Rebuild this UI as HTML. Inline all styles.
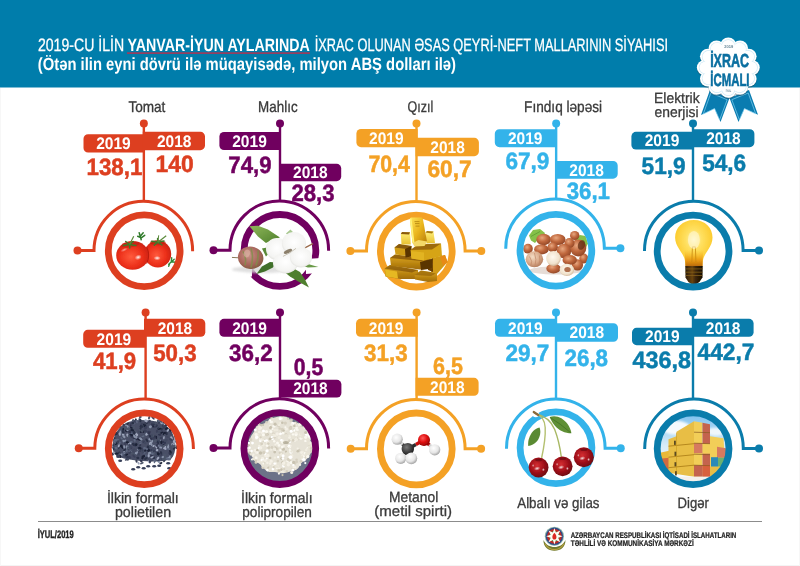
<!DOCTYPE html>
<html lang="az"><head><meta charset="utf-8"><title>İxrac icmalı</title>
<style>html,body{margin:0;padding:0;background:#fff}svg{display:block}text{font-family:"Liberation Sans",sans-serif;text-rendering:geometricPrecision}</style></head><body>
<svg width="800" height="566" viewBox="0 0 800 566">
<defs><radialGradient id="gTom" cx="0.45" cy="0.55" r="0.65"><stop offset="0" stop-color="#ff5a3c"/><stop offset="0.55" stop-color="#ec2f1a"/><stop offset="1" stop-color="#c01f10"/></radialGradient>
<radialGradient id="gHi" cx="0.5" cy="0.5" r="0.5"><stop offset="0" stop-color="#fff" stop-opacity="0.95"/><stop offset="1" stop-color="#fff" stop-opacity="0"/></radialGradient>
<radialGradient id="gCot" cx="0.5" cy="0.45" r="0.6"><stop offset="0" stop-color="#ffffff"/><stop offset="0.75" stop-color="#f4f4f2"/><stop offset="1" stop-color="#dcdcd8"/></radialGradient>
<radialGradient id="gBud" cx="0.4" cy="0.4" r="0.7"><stop offset="0" stop-color="#c9948a"/><stop offset="0.6" stop-color="#a8665c"/><stop offset="1" stop-color="#7a5a3a"/></radialGradient>
<linearGradient id="gLeaf" x1="0" y1="0" x2="1" y2="1"><stop offset="0" stop-color="#8fb85a"/><stop offset="1" stop-color="#4f7f2c"/></linearGradient>
<linearGradient id="gGoldV" x1="0" y1="0" x2="1" y2="1"><stop offset="0" stop-color="#ffe45a"/><stop offset="0.5" stop-color="#e9b41c"/><stop offset="1" stop-color="#b47a08"/></linearGradient>
<linearGradient id="gGoldH" x1="0" y1="0" x2="0" y2="1"><stop offset="0" stop-color="#e0aa1e"/><stop offset="1" stop-color="#a06c08"/></linearGradient>
<linearGradient id="gGoldL" x1="0" y1="0" x2="0" y2="1"><stop offset="0" stop-color="#fff07a"/><stop offset="1" stop-color="#e8c030"/></linearGradient>
<radialGradient id="gNut" cx="0.4" cy="0.35" r="0.7"><stop offset="0" stop-color="#e8a880"/><stop offset="0.5" stop-color="#c0683e"/><stop offset="1" stop-color="#8e4424"/></radialGradient>
<radialGradient id="gNutL" cx="0.4" cy="0.35" r="0.7"><stop offset="0" stop-color="#f4dcc4"/><stop offset="0.6" stop-color="#d8a888"/><stop offset="1" stop-color="#b07858"/></radialGradient>
<radialGradient id="gNutC" cx="0.45" cy="0.4" r="0.65"><stop offset="0" stop-color="#fffaf0"/><stop offset="0.7" stop-color="#f0e2cc"/><stop offset="1" stop-color="#c8a888"/></radialGradient>
<radialGradient id="gBulb" cx="0.5" cy="0.42" r="0.62"><stop offset="0" stop-color="#fff6c0"/><stop offset="0.35" stop-color="#ffe060"/><stop offset="0.8" stop-color="#fccc30"/><stop offset="1" stop-color="#f0b020"/></radialGradient>
<linearGradient id="gNeck" x1="0" y1="0" x2="0" y2="1"><stop offset="0" stop-color="#f6b820" stop-opacity="0"/><stop offset="0.6" stop-color="#e89410" stop-opacity="0.85"/><stop offset="1" stop-color="#b86808"/></linearGradient>
<linearGradient id="gBase" x1="0" y1="0" x2="1" y2="0"><stop offset="0" stop-color="#2a1a06"/><stop offset="0.4" stop-color="#6a4410"/><stop offset="0.6" stop-color="#3a2408"/><stop offset="1" stop-color="#140c02"/></linearGradient>
<radialGradient id="gH" cx="0.4" cy="0.35" r="0.7"><stop offset="0" stop-color="#ffffff"/><stop offset="0.6" stop-color="#e6e6e6"/><stop offset="1" stop-color="#9a9a9a"/></radialGradient>
<radialGradient id="gC" cx="0.4" cy="0.35" r="0.7"><stop offset="0" stop-color="#7a7a7a"/><stop offset="0.6" stop-color="#3c3c3c"/><stop offset="1" stop-color="#141414"/></radialGradient>
<radialGradient id="gO" cx="0.4" cy="0.35" r="0.7"><stop offset="0" stop-color="#ff5a5a"/><stop offset="0.5" stop-color="#e01010"/><stop offset="1" stop-color="#8a0000"/></radialGradient>
<radialGradient id="gCh" cx="0.42" cy="0.4" r="0.7"><stop offset="0" stop-color="#d42e32"/><stop offset="0.5" stop-color="#a2101a"/><stop offset="1" stop-color="#5c060c"/></radialGradient>
<linearGradient id="gSky" x1="0" y1="0" x2="0" y2="1"><stop offset="0" stop-color="#7cc0ee"/><stop offset="0.45" stop-color="#d8ecf8"/><stop offset="1" stop-color="#ffffff"/></linearGradient>
<linearGradient id="gRib" x1="0" y1="0" x2="0" y2="1"><stop offset="0" stop-color="#0a6e9c"/><stop offset="1" stop-color="#1288bc"/></linearGradient>
<filter id="bl1" x="-20%" y="-20%" width="140%" height="140%"><feGaussianBlur stdDeviation="0.6"/></filter>
<filter id="bl2" x="-20%" y="-20%" width="140%" height="140%"><feGaussianBlur stdDeviation="1.2"/></filter>
<filter id="bl05" x="-20%" y="-20%" width="140%" height="140%"><feGaussianBlur stdDeviation="0.35"/></filter></defs>
<rect width="800" height="566" fill="#fff"/>
<rect width="800" height="87.5" fill="#007dab"/>
<text transform="translate(37.92,50.50) scale(0.3522,0.4493)" font-size="40" font-weight="normal" fill="#fff" stroke="#fff" stroke-width="0.62">2019-CU İLİN</text>
<text transform="translate(127.62,50.50) scale(0.3553,0.4493)" font-size="40" font-weight="bold" fill="#fff">YANVAR-İYUN AYLARINDA</text>
<rect x="127" y="52.3" width="183" height="1.6" fill="#a43a58"/>
<text transform="translate(314.67,50.50) scale(0.3206,0.4493)" font-size="40" font-weight="normal" fill="#fff" stroke="#fff" stroke-width="0.65">İXRAC OLUNAN ƏSAS QEYRİ-NEFT MALLARININ SİYAHISI</text>
<text transform="translate(37.76,70.30) scale(0.3702,0.4420)" font-size="40" font-weight="bold" fill="#fff">(Ötən ilin eyni dövrü ilə müqayisədə, milyon ABŞ dolları ilə)</text>
<text transform="translate(128.38,111.85) scale(0.3395,0.3877)" font-size="40" font-weight="normal" fill="#3a3a3a" stroke="#3a3a3a" stroke-width="0.83">Tomat</text>
<text transform="translate(258.08,111.85) scale(0.3354,0.3877)" font-size="40" font-weight="normal" fill="#3a3a3a" stroke="#3a3a3a" stroke-width="0.83">Mahlıc</text>
<text transform="translate(407.59,111.85) scale(0.3111,0.3877)" font-size="40" font-weight="normal" fill="#3a3a3a" stroke="#3a3a3a" stroke-width="0.86">Qızıl</text>
<text transform="translate(524.06,111.85) scale(0.3409,0.3877)" font-size="40" font-weight="normal" fill="#3a3a3a" stroke="#3a3a3a" stroke-width="0.82">Fındıq ləpəsi</text>
<text transform="translate(654.04,103.45) scale(0.3477,0.3696)" font-size="40" font-weight="normal" fill="#3a3a3a" stroke="#3a3a3a" stroke-width="0.84">Elektrik</text>
<text transform="translate(654.60,116.85) scale(0.3464,0.3696)" font-size="40" font-weight="normal" fill="#3a3a3a" stroke="#3a3a3a" stroke-width="0.84">enerjisi</text>
<text transform="translate(106.88,503.25) scale(0.3514,0.3732)" font-size="40" font-weight="normal" fill="#3a3a3a" stroke="#3a3a3a" stroke-width="0.83">İlkin formalı</text>
<text transform="translate(114.92,516.65) scale(0.3558,0.3732)" font-size="40" font-weight="normal" fill="#3a3a3a" stroke="#3a3a3a" stroke-width="0.82">polietilen</text>
<text transform="translate(241.09,503.25) scale(0.3494,0.3732)" font-size="40" font-weight="normal" fill="#3a3a3a" stroke="#3a3a3a" stroke-width="0.83">İlkin formalı</text>
<text transform="translate(242.26,516.65) scale(0.3405,0.3732)" font-size="40" font-weight="normal" fill="#3a3a3a" stroke="#3a3a3a" stroke-width="0.84">polipropilen</text>
<text transform="translate(389.04,502.05) scale(0.3460,0.3696)" font-size="40" font-weight="normal" fill="#3a3a3a" stroke="#3a3a3a" stroke-width="0.84">Metanol</text>
<text transform="translate(374.35,516.05) scale(0.3756,0.3696)" font-size="40" font-weight="normal" fill="#3a3a3a" stroke="#3a3a3a" stroke-width="0.81">(metil spirti)</text>
<text transform="translate(517.25,507.55) scale(0.3333,0.3768)" font-size="40" font-weight="normal" fill="#3a3a3a" stroke="#3a3a3a" stroke-width="0.84">Albalı və gilas</text>
<text transform="translate(677.50,507.95) scale(0.3286,0.3768)" font-size="40" font-weight="normal" fill="#3a3a3a" stroke="#3a3a3a" stroke-width="0.85">Digər</text>
<path d="M77.50,250.60 L94.00,250.60 A49.3,49.3 0 0 1 192.60,250.60 L192.60,251.20" fill="none" stroke="#dd3f20" stroke-width="3" stroke-linejoin="miter"/>
<circle cx="77.50" cy="250.60" r="4" fill="#dd3f20"/>
<rect x="142.65" y="123.60" width="2.4" height="78.20" fill="#dd3f20"/>
<circle cx="143.85" cy="123.60" r="4" fill="#dd3f20"/>
<g transform="translate(0.20,-0.20)" filter="url(#bl05)"><ellipse cx="157.6" cy="254.2" rx="13.4" ry="13.6" fill="url(#gTom)"/><ellipse cx="157.6" cy="242.8" rx="8.0" ry="2.6" fill="#b8200f" opacity="0.55"/><ellipse cx="132.4" cy="255.6" rx="16.4" ry="14.4" fill="url(#gTom)"/><path d="M146.5,247 Q150.5,255 146.5,264" fill="none" stroke="#a81808" stroke-width="1" opacity="0.6"/><ellipse cx="130.0" cy="245.0" rx="9.0" ry="2.6" fill="#b8200f" transform="rotate(-6 130.0 245.0)" opacity="0.5"/><ellipse cx="138.0" cy="257.5" rx="3.6" ry="2.6" fill="url(#gHi)" transform="rotate(-20 138.0 257.5)"/><ellipse cx="157.0" cy="258.3" rx="3.6" ry="2.2" fill="url(#gHi)"/><ellipse cx="124.0" cy="250.0" rx="4.0" ry="1.6" fill="url(#gHi)" transform="rotate(-25 124.0 250.0)" opacity="0.6"/><path d="M129.4,244.6 L135.6,245.7" stroke="#3f7a2a" stroke-width="1.5" stroke-linecap="round"/><path d="M129.4,244.6 L129.5,248.2" stroke="#3f7a2a" stroke-width="1.5" stroke-linecap="round"/><path d="M129.4,244.6 L123.2,245.8" stroke="#3f7a2a" stroke-width="1.5" stroke-linecap="round"/><path d="M129.4,244.6 L125.5,241.7" stroke="#3f7a2a" stroke-width="1.5" stroke-linecap="round"/><path d="M129.4,244.6 L133.1,241.7" stroke="#3f7a2a" stroke-width="1.5" stroke-linecap="round"/><path d="M129.4,244.6 L133.5,236.5" stroke="#5a8a3a" stroke-width="1.2"/><path d="M157.7,242.4 L161.7,245.2" stroke="#3f7a2a" stroke-width="1.5" stroke-linecap="round"/><path d="M157.7,242.4 L154.1,245.4" stroke="#3f7a2a" stroke-width="1.5" stroke-linecap="round"/><path d="M157.7,242.4 L151.4,241.4" stroke="#3f7a2a" stroke-width="1.5" stroke-linecap="round"/><path d="M157.7,242.4 L157.4,238.8" stroke="#3f7a2a" stroke-width="1.5" stroke-linecap="round"/><path d="M157.7,242.4 L163.8,241.2" stroke="#3f7a2a" stroke-width="1.5" stroke-linecap="round"/><path d="M157.7,242.4 L166,236" stroke="#5a8a3a" stroke-width="1.2"/><path d="M157.7,242.4 L158.5,235.5" stroke="#5a8a3a" stroke-width="1"/><path d="M141,240 L139,233 M141,238 L137.5,236.5 M141,238 L144.5,235.5 M140.5,236 L143,233" stroke="#2f7a2a" stroke-width="1.5" stroke-linecap="round" fill="none"/><path d="M168.5,264.5 L174,259.5 M171,262 L171.5,258 M171,262 L175,262.5 M169.5,263.5 L168.5,266.5" stroke="#2f8a3a" stroke-width="1.4" stroke-linecap="round" fill="none"/></g>
<circle cx="144.20" cy="250.80" r="35.9" fill="none" stroke="#dd3f20" stroke-width="6.8"/>

<path d="M88.10,134.20 L144.80,134.20 L144.80,152.50 L88.10,152.50 A4.6,4.6 0 0 1 83.50,147.90 L83.50,138.80 A4.6,4.6 0 0 1 88.10,134.20 Z" fill="#dd3f20"/>
<text transform="translate(96.16,149.05) scale(0.3886,0.4179)" font-size="40" font-weight="bold" fill="#fff">2019</text>
<path d="M142.80,131.80 L200.40,131.80 A4.6,4.6 0 0 1 205.00,136.40 L205.00,145.60 A4.6,4.6 0 0 1 200.40,150.20 L142.80,150.20 L142.80,131.80 Z" fill="#dd3f20"/>
<text transform="translate(156.91,146.70) scale(0.3877,0.4179)" font-size="40" font-weight="bold" fill="#fff">2018</text>
<text transform="translate(86.51,175.00) scale(0.5580,0.5929)" font-size="40" font-weight="bold" fill="#dd3f20" stroke="#dd3f20" stroke-width="0.87">138,1</text>
<text transform="translate(155.47,172.40) scale(0.5735,0.5929)" font-size="40" font-weight="bold" fill="#dd3f20" stroke="#dd3f20" stroke-width="0.86">140</text>
<path d="M213.50,250.20 L230.00,250.20 A49.3,49.3 0 0 1 328.60,250.20 L328.60,250.80" fill="none" stroke="#70005f" stroke-width="3" stroke-linejoin="miter"/>
<circle cx="213.50" cy="250.20" r="4" fill="#70005f"/>
<rect x="278.80" y="123.60" width="2.4" height="77.80" fill="#70005f"/>
<circle cx="280.00" cy="123.60" r="4" fill="#70005f"/>

<circle cx="279.95" cy="250.40" r="35.9" fill="none" stroke="#70005f" stroke-width="6.8"/>
<g transform="translate(-0.05,-0.60)"><path d="M236,252.5 L252,251 L252,277 L247,277.5 L240,271 L236,262 Z M306,259.5 L321,258.5 L321,266 L318,273.5 L306,274.5 Z" fill="#fff" filter="url(#bl05)"/><ellipse cx="262.0" cy="270.0" rx="30.0" ry="3.5" fill="#d8d8d8" filter="url(#bl2)" opacity="0.8"/><g filter="url(#bl05)"><polygon points="249.5,226.8 258.0,226.4 268.0,230.0 280.0,238.0 272.0,240.5 266.0,243.5 258.0,237.0" fill="url(#gLeaf)"/><polygon points="286.0,234.0 290.5,230.0 293.0,232.5 289.0,236.5" fill="#a8c890"/><polygon points="256.5,274.5 262.0,267.0 270.0,262.5 276.0,263.0 273.0,268.0 265.0,272.0" fill="#3f6f2a"/><polygon points="284.0,272.0 292.0,268.0 300.0,272.5 305.0,280.0 309.0,288.0 300.0,283.0 290.0,277.0" fill="#4f7f2e"/><polygon points="298.0,265.0 308.0,264.5 318.5,267.5 308.0,268.0" fill="#6a9a48"/><polygon points="262.0,249.0 267.0,248.0 270.0,253.0 266.0,257.0" fill="#5a8a38"/><path d="M303,249.5 L313,244.2" stroke="#9a6a4a" stroke-width="1.2"/><path d="M232,258 L240,258.5" stroke="#8a7a5a" stroke-width="1"/><ellipse cx="250.7" cy="258.3" rx="12.8" ry="11.2" fill="url(#gBud)" transform="rotate(10 250.7 258.3)"/><path d="M243,252 Q247,258 245,266 M251,248.5 Q254,258 251,268 M258,251 Q259,259 256,266" stroke="#7f8f4a" stroke-width="1.6" fill="none" opacity="0.8"/><ellipse cx="247.0" cy="254.0" rx="3.0" ry="4.0" fill="#e0b8a8" transform="rotate(20 247.0 254.0)" opacity="0.6"/><ellipse cx="277.0" cy="249.5" rx="11.0" ry="11.0" fill="url(#gCot)"/><ellipse cx="294.0" cy="244.0" rx="12.0" ry="11.5" fill="url(#gCot)"/><ellipse cx="285.5" cy="263.5" rx="12.5" ry="10.5" fill="url(#gCot)"/><ellipse cx="301.0" cy="258.0" rx="11.0" ry="10.0" fill="url(#gCot)"/><ellipse cx="288.0" cy="252.0" rx="4.5" ry="1.8" fill="#6a5a40" transform="rotate(-25 288.0 252.0)" opacity="0.75"/><path d="M283,257 Q290,254 296,249" stroke="#c8c4b8" stroke-width="1" fill="none"/></g></g>
<path d="M224.00,132.00 L281.00,132.00 L281.00,150.00 L224.00,150.00 A4.6,4.6 0 0 1 219.40,145.40 L219.40,136.60 A4.6,4.6 0 0 1 224.00,132.00 Z" fill="#70005f"/>
<text transform="translate(232.21,146.70) scale(0.3886,0.4179)" font-size="40" font-weight="bold" fill="#fff">2019</text>
<path d="M279.00,163.80 L336.60,163.80 A4.6,4.6 0 0 1 341.20,168.40 L341.20,176.60 A4.6,4.6 0 0 1 336.60,181.20 L279.00,181.20 L279.00,163.80 Z" fill="#70005f"/>
<text transform="translate(293.11,178.20) scale(0.3877,0.4179)" font-size="40" font-weight="bold" fill="#fff">2018</text>
<text transform="translate(228.36,173.00) scale(0.5548,0.5929)" font-size="40" font-weight="bold" fill="#70005f" stroke="#70005f" stroke-width="0.87">74,9</text>
<text transform="translate(291.48,201.00) scale(0.5533,0.5929)" font-size="40" font-weight="bold" fill="#70005f" stroke="#70005f" stroke-width="0.87">28,3</text>
<path d="M350.40,250.90 L366.50,250.90 A49.3,49.3 0 0 1 465.10,250.90 L481.30,250.90" fill="none" stroke="#f4a125" stroke-width="3" stroke-linejoin="miter"/>
<circle cx="350.40" cy="250.90" r="4" fill="#f4a125"/>
<circle cx="481.30" cy="250.90" r="4" fill="#f4a125"/>
<rect x="415.30" y="123.60" width="2.4" height="78.50" fill="#f4a125"/>
<circle cx="416.50" cy="123.60" r="4" fill="#f4a125"/>

<circle cx="416.30" cy="251.10" r="35.9" fill="none" stroke="#f4a125" stroke-width="6.8"/>
<g transform="translate(0.00,0.10)" filter="url(#bl05)"><polygon points="384.5,268.5 390.0,265.0 418.0,270.0 418.5,279.0 400.0,279.0 385.5,276.5" fill="url(#gGoldH)"/><polygon points="384.5,268.5 390.0,265.0 418.0,270.0 412.0,272.5" fill="#6a3e06" opacity="0.55"/><polygon points="385.0,269.5 397.0,271.5 398.0,278.5 385.8,276.5" fill="#e6b824"/><polygon points="414.5,275.0 421.0,270.5 437.0,273.0 437.0,281.0 428.0,282.0 415.0,279.5" fill="url(#gGoldH)"/><polygon points="414.5,275.0 421.0,270.5 437.0,273.0 431.0,276.0" fill="#8a5a0a" opacity="0.6"/><polygon points="432.0,258.0 445.0,255.0 447.5,262.0 437.0,274.0 431.0,272.0" fill="#d09a14"/><polygon points="440.0,256.5 445.0,255.0 447.5,262.0 443.0,266.0" fill="#e88a18"/><polygon points="428.0,260.0 433.0,258.0 433.0,272.0 428.0,270.0" fill="#6a3e06"/><polygon points="390.0,258.0 395.0,254.5 432.0,259.0 432.5,268.5 420.0,269.5 391.0,266.0" fill="url(#gGoldH)"/><polygon points="390.0,258.0 395.0,254.5 432.0,259.0 427.0,261.5" fill="#6a3e06" opacity="0.6"/><polygon points="420.0,262.0 432.0,259.0 432.5,268.5 421.0,270.0" fill="#5a3404"/><polygon points="394.5,247.5 399.0,244.0 411.5,246.0 411.0,256.5 395.5,254.5" fill="#cf9c18"/><polygon points="394.5,247.5 399.0,244.0 411.5,246.0 407.0,249.0" fill="#6a3e06" opacity="0.7"/><polygon points="405.0,249.0 411.5,246.0 411.0,256.5 405.5,257.5" fill="#5a3404"/><polygon points="410.5,250.0 418.0,244.5 441.0,243.5 442.0,256.0 424.0,260.5 411.5,258.5" fill="#d6a416"/><polygon points="410.5,250.0 418.0,244.5 441.0,243.5 432.0,249.5" fill="#8a5808" opacity="0.75"/><polygon points="411.0,251.0 424.0,252.5 424.0,260.5 411.5,258.5" fill="#e2b422"/><polygon points="400.8,234.0 402.0,232.0 410.0,232.2 410.8,244.5 401.5,244.5" fill="url(#gGoldL)"/><polygon points="400.8,234.0 402.0,232.0 410.0,232.2 409.0,234.5" fill="#8a5a0a"/><polygon points="425.5,232.5 427.0,231.0 433.5,231.5 435.0,243.0 426.5,243.5" fill="url(#gGoldL)"/><polygon points="425.5,232.5 427.0,231.0 433.5,231.5 432.0,233.5" fill="#a87a10"/><polygon points="409.8,218.5 411.0,217.5 421.5,217.5 422.8,218.5 427.0,241.5 420.0,245.0 412.5,243.0" fill="url(#gGoldV)"/><polygon points="409.8,218.5 411.5,218.5 414.5,243.0 412.5,243.0" fill="#fff27a"/><polygon points="412.5,243.0 418.5,240.0 427.0,241.5 424.5,246.0 414.5,246.5" fill="#f4d868"/><path d="M414.5,221.5 h5 M415,223.5 h4.5 M415.5,226 h4" stroke="#a87808" stroke-width="0.7"/></g>
<path d="M361.00,129.00 L417.60,129.00 L417.60,147.20 L361.00,147.20 A4.6,4.6 0 0 1 356.40,142.60 L356.40,133.60 A4.6,4.6 0 0 1 361.00,129.00 Z" fill="#f4a125"/>
<text transform="translate(369.01,143.80) scale(0.3886,0.4179)" font-size="40" font-weight="bold" fill="#fff">2019</text>
<path d="M415.60,137.80 L474.30,137.80 A4.6,4.6 0 0 1 478.90,142.40 L478.90,151.60 A4.6,4.6 0 0 1 474.30,156.20 L415.60,156.20 L415.60,137.80 Z" fill="#f4a125"/>
<text transform="translate(430.26,152.70) scale(0.3877,0.4179)" font-size="40" font-weight="bold" fill="#fff">2018</text>
<text transform="translate(368.40,171.60) scale(0.5329,0.5929)" font-size="40" font-weight="bold" fill="#f4a125" stroke="#f4a125" stroke-width="0.89">70,4</text>
<text transform="translate(427.45,177.00) scale(0.5682,0.5929)" font-size="40" font-weight="bold" fill="#f4a125" stroke="#f4a125" stroke-width="0.86">60,7</text>
<path d="M505.75,248.80 L505.75,248.20 A49.3,49.3 0 0 1 604.35,248.20 L620.40,248.20" fill="none" stroke="#33b3ea" stroke-width="3" stroke-linejoin="miter"/>
<circle cx="620.40" cy="248.20" r="4" fill="#33b3ea"/>
<rect x="554.95" y="123.60" width="2.4" height="75.80" fill="#33b3ea"/>
<circle cx="556.15" cy="123.60" r="4" fill="#33b3ea"/>
<g transform="translate(0.00,-0.50)" filter="url(#bl05)"><path d="M529,236 L533,230.5 L540,229.5 L545,233.5 L543,238 L538,240 L535,243.5 L531,241 Z" fill="#86c04a"/><path d="M531,237 L540,232" stroke="#5a9a30" stroke-width="0.8"/><path d="M575,240 L580,235.5 L585.5,236.5 L588,244 L585,250 L579,246 Z" fill="#86c04a"/><ellipse cx="556.0" cy="271.0" rx="27.0" ry="4.0" fill="#e6dcd6" filter="url(#bl1)"/><ellipse cx="528.0" cy="249.2" rx="4.8" ry="4.9" fill="url(#gNut)"/><ellipse cx="574.7" cy="236.0" rx="4.7" ry="4.6" fill="url(#gNut)"/><ellipse cx="543.6" cy="240.0" rx="7.3" ry="5.7" fill="url(#gNut)"/><ellipse cx="557.7" cy="240.0" rx="7.8" ry="5.5" fill="url(#gNut)"/><ellipse cx="583.8" cy="259.0" rx="4.5" ry="5.0" fill="url(#gNut)"/><ellipse cx="578.2" cy="248.5" rx="8.1" ry="8.4" fill="url(#gNut)"/><ellipse cx="569.5" cy="243.5" rx="5.0" ry="5.1" fill="url(#gNut)"/><ellipse cx="541.4" cy="249.9" rx="7.3" ry="5.0" fill="url(#gNut)"/><ellipse cx="552.7" cy="247.7" rx="5.2" ry="5.0" fill="url(#gNut)"/><ellipse cx="564.0" cy="251.5" rx="7.2" ry="7.3" fill="url(#gNut)"/><ellipse cx="577.5" cy="265.4" rx="5.6" ry="5.7" fill="url(#gNut)"/><ellipse cx="569.7" cy="260.5" rx="7.2" ry="5.0" fill="url(#gNut)"/><ellipse cx="553.5" cy="269.0" rx="7.2" ry="5.0" fill="url(#gNut)"/><ellipse cx="534.4" cy="259.8" rx="8.8" ry="8.0" fill="url(#gNutL)"/><ellipse cx="553.5" cy="259.0" rx="7.3" ry="7.4" fill="url(#gNutC)"/><ellipse cx="566.9" cy="270.4" rx="7.2" ry="6.2" fill="url(#gNutC)"/><ellipse cx="567.5" cy="270.0" rx="3.2" ry="2.6" fill="#b07050"/><ellipse cx="581.5" cy="245.5" rx="3.5" ry="5.0" fill="#5a2a12" transform="rotate(20 581.5 245.5)" opacity="0.7"/><path d="M529.5,257 Q533,262 531,266 M534.5,253.5 Q537,260 535,266.5 M539.5,256 Q540.5,261 539,265" stroke="#c08868" stroke-width="0.9" fill="none" opacity="0.8"/></g>
<circle cx="555.90" cy="250.30" r="35.9" fill="none" stroke="#33b3ea" stroke-width="6.8"/>

<path d="M499.40,129.20 L557.00,129.20 L557.00,147.20 L499.40,147.20 A4.6,4.6 0 0 1 494.80,142.60 L494.80,133.80 A4.6,4.6 0 0 1 499.40,129.20 Z" fill="#33b3ea"/>
<text transform="translate(507.91,143.90) scale(0.3886,0.4179)" font-size="40" font-weight="bold" fill="#fff">2019</text>
<path d="M555.00,160.90 L613.10,160.90 A4.6,4.6 0 0 1 617.70,165.50 L617.70,174.10 A4.6,4.6 0 0 1 613.10,178.70 L555.00,178.70 L555.00,160.90 Z" fill="#33b3ea"/>
<text transform="translate(569.36,175.50) scale(0.3877,0.4179)" font-size="40" font-weight="bold" fill="#fff">2018</text>
<text transform="translate(505.46,169.30) scale(0.5640,0.5929)" font-size="40" font-weight="bold" fill="#33b3ea" stroke="#33b3ea" stroke-width="0.86">67,9</text>
<text transform="translate(566.69,198.60) scale(0.5554,0.5929)" font-size="40" font-weight="bold" fill="#33b3ea" stroke="#33b3ea" stroke-width="0.87">36,1</text>
<path d="M644.50,251.10 L644.50,250.50 A49.3,49.3 0 0 1 743.10,250.50 L759.00,250.50" fill="none" stroke="#0a7cab" stroke-width="3" stroke-linejoin="miter"/>
<circle cx="759.00" cy="250.50" r="4" fill="#0a7cab"/>
<rect x="691.80" y="123.60" width="2.4" height="78.10" fill="#0a7cab"/>
<circle cx="693.00" cy="123.60" r="4" fill="#0a7cab"/>
<g transform="translate(-0.10,-0.10)" filter="url(#bl05)"><path d="M693.9,220.2 C705.5,220.2 712.6,228.5 712.6,237.5 C712.6,246 706,251.5 703.6,258 C702.6,261 702.8,264 702.6,266.5 L685.6,266.5 C685.4,264 685.4,261 684.4,258 C682,251.5 675.2,246 675.2,237.5 C675.2,228.5 682.5,220.2 693.9,220.2 Z" fill="url(#gBulb)"/><path d="M684.4,250 L703.6,250 C702.8,256 702.8,262 702.6,266.5 L685.6,266.5 C685.4,262 685.2,256 684.4,250 Z" fill="url(#gNeck)"/><path d="M692,262 L692.5,247 L695.5,247 L696,262" stroke="#c88a10" stroke-width="1" fill="none" opacity="0.8"/><ellipse cx="694.0" cy="240.0" rx="6.0" ry="9.0" fill="#fffbe0" opacity="0.55" filter="url(#bl1)"/><path d="M685.4,266 L702.8,266 L702.6,277.5 L699.5,282 L696.5,284 L691.5,284 L688.5,282 L685.6,277.5 Z" fill="url(#gBase)"/><path d="M685.6,269 h17 M685.6,272.3 h17 M685.8,275.6 h16.6" stroke="#8a6418" stroke-width="0.9" opacity="0.8"/></g>
<circle cx="693.10" cy="251.10" r="35.9" fill="none" stroke="#0a7cab" stroke-width="6.8"/>

<path d="M636.00,131.80 L694.00,131.80 L694.00,149.60 L636.00,149.60 A4.6,4.6 0 0 1 631.40,145.00 L631.40,136.40 A4.6,4.6 0 0 1 636.00,131.80 Z" fill="#0a7cab"/>
<text transform="translate(644.71,146.40) scale(0.3886,0.4179)" font-size="40" font-weight="bold" fill="#fff">2019</text>
<path d="M692.00,129.20 L749.80,129.20 A4.6,4.6 0 0 1 754.40,133.80 L754.40,142.60 A4.6,4.6 0 0 1 749.80,147.20 L692.00,147.20 L692.00,129.20 Z" fill="#0a7cab"/>
<text transform="translate(706.21,143.90) scale(0.3877,0.4179)" font-size="40" font-weight="bold" fill="#fff">2018</text>
<text transform="translate(641.57,173.50) scale(0.5652,0.5929)" font-size="40" font-weight="bold" fill="#0a7cab" stroke="#0a7cab" stroke-width="0.86">51,9</text>
<text transform="translate(702.17,171.00) scale(0.5652,0.5929)" font-size="40" font-weight="bold" fill="#0a7cab" stroke="#0a7cab" stroke-width="0.86">54,6</text>
<path d="M78.75,448.30 L94.80,448.30 A49.3,49.3 0 0 1 193.40,448.30 L193.40,448.90" fill="none" stroke="#dd3f20" stroke-width="3" stroke-linejoin="miter"/>
<circle cx="78.75" cy="448.30" r="4" fill="#dd3f20"/>
<rect x="144.40" y="312.40" width="2.4" height="87.10" fill="#dd3f20"/>
<circle cx="145.60" cy="312.40" r="4" fill="#dd3f20"/>
<clipPath id="clip_144_449"><circle cx="144.20" cy="448.70" r="34"/></clipPath><g clip-path="url(#clip_144_449)"><g filter="url(#bl05)"><path d="M113.2,450.7 C111.2,435.7 119.2,421.7 136.2,420.2 C150.2,419.2 164.2,421.7 171.2,430.7 C176.2,439.7 177.2,452.7 171.2,458.7 C163.2,462.7 144.2,461.7 131.2,459.7 C120.2,458.2 114.2,455.7 113.2,450.7 Z" fill="#485066" filter="url(#bl1)"/><ellipse cx="131.5" cy="423.5" rx="2.0" ry="0.9" fill="#3a4058" transform="rotate(149 131.5 423.5)"/><ellipse cx="139.4" cy="419.3" rx="1.3" ry="1.1" fill="#a0a8be" transform="rotate(57 139.4 419.3)"/><ellipse cx="153.6" cy="446.0" rx="1.3" ry="0.9" fill="#a0a8be" transform="rotate(142 153.6 446.0)"/><ellipse cx="170.0" cy="430.8" rx="1.8" ry="1.1" fill="#3a4058" transform="rotate(174 170.0 430.8)"/><ellipse cx="121.2" cy="445.9" rx="1.4" ry="1.2" fill="#1c2236" transform="rotate(144 121.2 445.9)"/><ellipse cx="139.0" cy="432.0" rx="1.6" ry="0.9" fill="#424a60" transform="rotate(46 139.0 432.0)"/><ellipse cx="158.5" cy="428.4" rx="1.7" ry="1.0" fill="#30364e" transform="rotate(114 158.5 428.4)"/><ellipse cx="138.3" cy="455.1" rx="1.6" ry="1.4" fill="#424a60" transform="rotate(19 138.3 455.1)"/><ellipse cx="163.2" cy="445.5" rx="1.6" ry="1.0" fill="#1c2236" transform="rotate(127 163.2 445.5)"/><ellipse cx="150.0" cy="439.4" rx="1.7" ry="1.2" fill="#8a94aa" transform="rotate(15 150.0 439.4)"/><ellipse cx="160.8" cy="431.8" rx="1.5" ry="1.0" fill="#424a60" transform="rotate(171 160.8 431.8)"/><ellipse cx="152.2" cy="441.4" rx="1.4" ry="0.9" fill="#8a94aa" transform="rotate(100 152.2 441.4)"/><ellipse cx="174.2" cy="441.5" rx="1.7" ry="1.3" fill="#a0a8be" transform="rotate(110 174.2 441.5)"/><ellipse cx="170.4" cy="430.2" rx="1.8" ry="1.0" fill="#1c2236" transform="rotate(59 170.4 430.2)"/><ellipse cx="125.0" cy="440.9" rx="1.5" ry="0.9" fill="#8a94aa" transform="rotate(136 125.0 440.9)"/><ellipse cx="134.8" cy="445.1" rx="2.1" ry="1.2" fill="#30364e" transform="rotate(13 134.8 445.1)"/><ellipse cx="141.1" cy="461.0" rx="1.6" ry="1.0" fill="#30364e" transform="rotate(26 141.1 461.0)"/><ellipse cx="142.9" cy="436.5" rx="1.7" ry="0.9" fill="#5e6880" transform="rotate(153 142.9 436.5)"/><ellipse cx="115.5" cy="434.6" rx="1.8" ry="0.9" fill="#5e6880" transform="rotate(64 115.5 434.6)"/><ellipse cx="177.0" cy="447.0" rx="2.0" ry="1.4" fill="#3a4058" transform="rotate(119 177.0 447.0)"/><ellipse cx="142.8" cy="431.9" rx="1.9" ry="1.1" fill="#1c2236" transform="rotate(177 142.8 431.9)"/><ellipse cx="146.2" cy="423.3" rx="1.9" ry="1.0" fill="#2a3046" transform="rotate(164 146.2 423.3)"/><ellipse cx="170.4" cy="451.9" rx="2.0" ry="1.0" fill="#1c2236" transform="rotate(57 170.4 451.9)"/><ellipse cx="146.5" cy="456.2" rx="1.8" ry="1.3" fill="#5e6880" transform="rotate(49 146.5 456.2)"/><ellipse cx="166.2" cy="458.3" rx="1.5" ry="1.1" fill="#5e6880" transform="rotate(7 166.2 458.3)"/><ellipse cx="122.1" cy="447.2" rx="2.1" ry="1.0" fill="#1c2236" transform="rotate(56 122.1 447.2)"/><ellipse cx="115.6" cy="440.1" rx="1.8" ry="1.3" fill="#424a60" transform="rotate(0 115.6 440.1)"/><ellipse cx="142.7" cy="449.7" rx="2.0" ry="0.9" fill="#3a4058" transform="rotate(99 142.7 449.7)"/><ellipse cx="164.5" cy="454.7" rx="1.6" ry="1.2" fill="#4c5468" transform="rotate(22 164.5 454.7)"/><ellipse cx="133.4" cy="444.2" rx="1.9" ry="1.2" fill="#2a3046" transform="rotate(26 133.4 444.2)"/><ellipse cx="126.3" cy="430.9" rx="1.5" ry="1.1" fill="#1c2236" transform="rotate(33 126.3 430.9)"/><ellipse cx="112.6" cy="454.2" rx="1.6" ry="1.4" fill="#30364e" transform="rotate(128 112.6 454.2)"/><ellipse cx="171.0" cy="456.1" rx="1.4" ry="1.1" fill="#4c5468" transform="rotate(30 171.0 456.1)"/><ellipse cx="148.3" cy="432.7" rx="1.7" ry="1.3" fill="#30364e" transform="rotate(143 148.3 432.7)"/><ellipse cx="115.2" cy="439.2" rx="1.7" ry="1.2" fill="#3a4058" transform="rotate(129 115.2 439.2)"/><ellipse cx="151.8" cy="426.1" rx="1.7" ry="1.1" fill="#30364e" transform="rotate(63 151.8 426.1)"/><ellipse cx="158.5" cy="461.3" rx="2.0" ry="1.3" fill="#8a94aa" transform="rotate(51 158.5 461.3)"/><ellipse cx="140.0" cy="419.5" rx="1.5" ry="1.0" fill="#3a4058" transform="rotate(31 140.0 419.5)"/><ellipse cx="155.7" cy="423.1" rx="1.5" ry="1.4" fill="#424a60" transform="rotate(101 155.7 423.1)"/><ellipse cx="124.3" cy="452.4" rx="1.6" ry="0.9" fill="#a0a8be" transform="rotate(81 124.3 452.4)"/><ellipse cx="114.8" cy="434.7" rx="1.7" ry="0.8" fill="#424a60" transform="rotate(84 114.8 434.7)"/><ellipse cx="145.5" cy="431.1" rx="2.1" ry="1.3" fill="#3a4058" transform="rotate(26 145.5 431.1)"/><ellipse cx="121.3" cy="455.0" rx="1.6" ry="1.1" fill="#8a94aa" transform="rotate(131 121.3 455.0)"/><ellipse cx="149.3" cy="452.1" rx="1.9" ry="0.9" fill="#2a3046" transform="rotate(18 149.3 452.1)"/><ellipse cx="127.0" cy="447.3" rx="2.0" ry="1.1" fill="#8a94aa" transform="rotate(86 127.0 447.3)"/><ellipse cx="153.0" cy="417.9" rx="2.1" ry="1.0" fill="#3a4058" transform="rotate(46 153.0 417.9)"/><ellipse cx="122.7" cy="431.9" rx="1.5" ry="1.1" fill="#5e6880" transform="rotate(45 122.7 431.9)"/><ellipse cx="127.7" cy="457.5" rx="1.3" ry="1.2" fill="#2a3046" transform="rotate(141 127.7 457.5)"/><ellipse cx="140.4" cy="449.9" rx="1.7" ry="1.3" fill="#424a60" transform="rotate(129 140.4 449.9)"/><ellipse cx="130.4" cy="426.9" rx="2.0" ry="1.2" fill="#5e6880" transform="rotate(162 130.4 426.9)"/><ellipse cx="171.5" cy="438.1" rx="2.0" ry="1.2" fill="#a0a8be" transform="rotate(72 171.5 438.1)"/><ellipse cx="151.3" cy="451.7" rx="1.4" ry="1.1" fill="#4c5468" transform="rotate(67 151.3 451.7)"/><ellipse cx="134.4" cy="432.8" rx="1.5" ry="1.4" fill="#1c2236" transform="rotate(79 134.4 432.8)"/><ellipse cx="123.9" cy="425.2" rx="1.7" ry="1.1" fill="#3a4058" transform="rotate(51 123.9 425.2)"/><ellipse cx="126.1" cy="456.1" rx="1.4" ry="1.2" fill="#3a4058" transform="rotate(100 126.1 456.1)"/><ellipse cx="150.4" cy="443.2" rx="1.9" ry="1.2" fill="#a0a8be" transform="rotate(126 150.4 443.2)"/><ellipse cx="119.0" cy="453.4" rx="2.0" ry="1.2" fill="#2a3046" transform="rotate(131 119.0 453.4)"/><ellipse cx="153.4" cy="453.9" rx="2.0" ry="1.3" fill="#4c5468" transform="rotate(145 153.4 453.9)"/><ellipse cx="168.3" cy="457.5" rx="1.4" ry="0.8" fill="#5e6880" transform="rotate(163 168.3 457.5)"/><ellipse cx="134.2" cy="421.2" rx="1.3" ry="0.8" fill="#30364e" transform="rotate(136 134.2 421.2)"/><ellipse cx="157.2" cy="441.1" rx="1.9" ry="1.1" fill="#3a4058" transform="rotate(137 157.2 441.1)"/><ellipse cx="114.8" cy="443.1" rx="1.5" ry="0.8" fill="#424a60" transform="rotate(67 114.8 443.1)"/><ellipse cx="125.1" cy="455.0" rx="1.7" ry="1.0" fill="#424a60" transform="rotate(122 125.1 455.0)"/><ellipse cx="153.8" cy="426.0" rx="1.5" ry="1.2" fill="#1c2236" transform="rotate(77 153.8 426.0)"/><ellipse cx="152.9" cy="422.6" rx="1.5" ry="1.2" fill="#424a60" transform="rotate(177 152.9 422.6)"/><ellipse cx="123.9" cy="441.2" rx="1.7" ry="1.1" fill="#8a94aa" transform="rotate(30 123.9 441.2)"/><ellipse cx="114.4" cy="440.3" rx="2.0" ry="1.4" fill="#3a4058" transform="rotate(115 114.4 440.3)"/><ellipse cx="162.0" cy="429.3" rx="1.5" ry="0.9" fill="#30364e" transform="rotate(93 162.0 429.3)"/><ellipse cx="140.7" cy="431.4" rx="1.6" ry="0.9" fill="#1c2236" transform="rotate(84 140.7 431.4)"/><ellipse cx="173.1" cy="430.8" rx="1.6" ry="1.3" fill="#a0a8be" transform="rotate(19 173.1 430.8)"/><ellipse cx="134.2" cy="438.0" rx="1.5" ry="0.8" fill="#2a3046" transform="rotate(169 134.2 438.0)"/><ellipse cx="127.3" cy="442.3" rx="1.9" ry="1.1" fill="#1c2236" transform="rotate(7 127.3 442.3)"/><ellipse cx="166.7" cy="448.5" rx="1.7" ry="1.2" fill="#30364e" transform="rotate(12 166.7 448.5)"/><ellipse cx="175.4" cy="437.1" rx="1.8" ry="1.0" fill="#4c5468" transform="rotate(12 175.4 437.1)"/><ellipse cx="173.9" cy="444.3" rx="1.6" ry="1.0" fill="#a0a8be" transform="rotate(167 173.9 444.3)"/><ellipse cx="126.9" cy="449.8" rx="1.8" ry="0.9" fill="#30364e" transform="rotate(164 126.9 449.8)"/><ellipse cx="119.8" cy="426.5" rx="1.7" ry="1.1" fill="#424a60" transform="rotate(85 119.8 426.5)"/><ellipse cx="149.2" cy="461.8" rx="1.6" ry="1.2" fill="#a0a8be" transform="rotate(53 149.2 461.8)"/><ellipse cx="135.3" cy="433.3" rx="1.8" ry="1.0" fill="#8a94aa" transform="rotate(175 135.3 433.3)"/><ellipse cx="144.4" cy="448.4" rx="1.4" ry="1.3" fill="#5e6880" transform="rotate(98 144.4 448.4)"/><ellipse cx="137.0" cy="438.9" rx="1.4" ry="1.1" fill="#2a3046" transform="rotate(121 137.0 438.9)"/><ellipse cx="141.9" cy="439.0" rx="1.4" ry="1.1" fill="#5e6880" transform="rotate(174 141.9 439.0)"/><ellipse cx="149.2" cy="417.7" rx="1.8" ry="1.1" fill="#4c5468" transform="rotate(111 149.2 417.7)"/><ellipse cx="158.5" cy="421.5" rx="2.1" ry="0.9" fill="#30364e" transform="rotate(66 158.5 421.5)"/><ellipse cx="124.3" cy="447.0" rx="2.1" ry="1.0" fill="#8a94aa" transform="rotate(80 124.3 447.0)"/><ellipse cx="154.6" cy="461.7" rx="1.7" ry="0.8" fill="#5e6880" transform="rotate(105 154.6 461.7)"/><ellipse cx="158.9" cy="431.7" rx="2.0" ry="1.2" fill="#424a60" transform="rotate(20 158.9 431.7)"/><ellipse cx="126.7" cy="450.4" rx="1.7" ry="1.2" fill="#5e6880" transform="rotate(107 126.7 450.4)"/><ellipse cx="134.3" cy="436.3" rx="1.9" ry="1.1" fill="#8a94aa" transform="rotate(52 134.3 436.3)"/><ellipse cx="143.9" cy="426.1" rx="1.5" ry="0.9" fill="#5e6880" transform="rotate(75 143.9 426.1)"/><ellipse cx="116.0" cy="448.1" rx="1.7" ry="1.3" fill="#5e6880" transform="rotate(14 116.0 448.1)"/><ellipse cx="135.1" cy="432.9" rx="1.4" ry="0.8" fill="#2a3046" transform="rotate(107 135.1 432.9)"/><ellipse cx="123.1" cy="434.2" rx="1.4" ry="1.2" fill="#a0a8be" transform="rotate(50 123.1 434.2)"/><ellipse cx="137.8" cy="457.9" rx="1.6" ry="1.1" fill="#2a3046" transform="rotate(15 137.8 457.9)"/><ellipse cx="126.7" cy="454.6" rx="1.6" ry="1.0" fill="#1c2236" transform="rotate(157 126.7 454.6)"/><ellipse cx="151.1" cy="457.6" rx="1.3" ry="0.9" fill="#3a4058" transform="rotate(121 151.1 457.6)"/><ellipse cx="159.7" cy="439.9" rx="2.0" ry="1.3" fill="#8a94aa" transform="rotate(33 159.7 439.9)"/><ellipse cx="161.4" cy="458.5" rx="1.6" ry="1.0" fill="#5e6880" transform="rotate(92 161.4 458.5)"/><ellipse cx="164.6" cy="446.7" rx="1.9" ry="0.9" fill="#a0a8be" transform="rotate(16 164.6 446.7)"/><ellipse cx="155.0" cy="440.7" rx="2.1" ry="1.3" fill="#4c5468" transform="rotate(18 155.0 440.7)"/><ellipse cx="144.1" cy="452.6" rx="1.4" ry="1.1" fill="#5e6880" transform="rotate(172 144.1 452.6)"/><ellipse cx="125.1" cy="443.7" rx="1.9" ry="1.0" fill="#3a4058" transform="rotate(71 125.1 443.7)"/><ellipse cx="149.0" cy="435.1" rx="1.7" ry="0.9" fill="#5e6880" transform="rotate(60 149.0 435.1)"/><ellipse cx="131.7" cy="436.3" rx="1.7" ry="1.2" fill="#30364e" transform="rotate(25 131.7 436.3)"/><ellipse cx="142.4" cy="458.3" rx="1.3" ry="1.0" fill="#1c2236" transform="rotate(30 142.4 458.3)"/><ellipse cx="111.8" cy="446.9" rx="2.0" ry="1.0" fill="#5e6880" transform="rotate(45 111.8 446.9)"/><ellipse cx="140.5" cy="429.2" rx="1.4" ry="1.2" fill="#2a3046" transform="rotate(158 140.5 429.2)"/><ellipse cx="160.9" cy="463.2" rx="1.6" ry="1.0" fill="#1c2236" transform="rotate(158 160.9 463.2)"/><ellipse cx="130.7" cy="426.3" rx="1.7" ry="1.0" fill="#30364e" transform="rotate(101 130.7 426.3)"/><ellipse cx="156.0" cy="423.7" rx="1.6" ry="1.0" fill="#4c5468" transform="rotate(72 156.0 423.7)"/><ellipse cx="156.3" cy="437.4" rx="1.6" ry="0.8" fill="#1c2236" transform="rotate(93 156.3 437.4)"/><ellipse cx="154.6" cy="436.0" rx="1.6" ry="0.9" fill="#2a3046" transform="rotate(29 154.6 436.0)"/><ellipse cx="167.3" cy="436.8" rx="1.9" ry="0.9" fill="#424a60" transform="rotate(13 167.3 436.8)"/><ellipse cx="147.9" cy="449.0" rx="1.8" ry="1.4" fill="#3a4058" transform="rotate(129 147.9 449.0)"/><ellipse cx="120.6" cy="433.8" rx="2.0" ry="0.9" fill="#4c5468" transform="rotate(125 120.6 433.8)"/><ellipse cx="162.5" cy="456.9" rx="1.4" ry="1.4" fill="#8a94aa" transform="rotate(123 162.5 456.9)"/><ellipse cx="130.8" cy="447.3" rx="2.0" ry="1.2" fill="#3a4058" transform="rotate(41 130.8 447.3)"/><ellipse cx="154.3" cy="460.2" rx="2.0" ry="0.9" fill="#5e6880" transform="rotate(55 154.3 460.2)"/><ellipse cx="134.1" cy="423.5" rx="1.3" ry="1.1" fill="#5e6880" transform="rotate(172 134.1 423.5)"/><ellipse cx="151.4" cy="444.3" rx="1.8" ry="1.0" fill="#8a94aa" transform="rotate(63 151.4 444.3)"/><ellipse cx="138.9" cy="450.0" rx="1.4" ry="0.8" fill="#424a60" transform="rotate(125 138.9 450.0)"/><ellipse cx="141.7" cy="438.9" rx="2.0" ry="1.3" fill="#424a60" transform="rotate(102 141.7 438.9)"/><ellipse cx="114.8" cy="438.7" rx="1.3" ry="0.9" fill="#2a3046" transform="rotate(80 114.8 438.7)"/><ellipse cx="164.2" cy="442.3" rx="2.0" ry="1.2" fill="#30364e" transform="rotate(34 164.2 442.3)"/><ellipse cx="158.1" cy="421.4" rx="1.5" ry="1.3" fill="#424a60" transform="rotate(42 158.1 421.4)"/><ellipse cx="157.6" cy="453.2" rx="1.8" ry="1.0" fill="#1c2236" transform="rotate(82 157.6 453.2)"/><ellipse cx="172.8" cy="430.0" rx="1.5" ry="1.4" fill="#4c5468" transform="rotate(122 172.8 430.0)"/><ellipse cx="123.2" cy="429.4" rx="1.6" ry="0.9" fill="#1c2236" transform="rotate(103 123.2 429.4)"/><ellipse cx="116.5" cy="443.3" rx="2.1" ry="1.1" fill="#1c2236" transform="rotate(133 116.5 443.3)"/><ellipse cx="150.0" cy="461.6" rx="1.8" ry="1.0" fill="#30364e" transform="rotate(95 150.0 461.6)"/><ellipse cx="134.1" cy="455.5" rx="1.8" ry="1.4" fill="#4c5468" transform="rotate(75 134.1 455.5)"/><ellipse cx="167.2" cy="428.9" rx="1.9" ry="1.2" fill="#1c2236" transform="rotate(56 167.2 428.9)"/><ellipse cx="119.0" cy="447.7" rx="1.6" ry="0.8" fill="#30364e" transform="rotate(125 119.0 447.7)"/><ellipse cx="124.6" cy="449.7" rx="1.8" ry="1.0" fill="#2a3046" transform="rotate(133 124.6 449.7)"/><ellipse cx="133.9" cy="427.4" rx="1.5" ry="1.2" fill="#4c5468" transform="rotate(121 133.9 427.4)"/><ellipse cx="159.1" cy="439.1" rx="2.0" ry="1.3" fill="#4c5468" transform="rotate(102 159.1 439.1)"/><ellipse cx="149.9" cy="447.0" rx="1.5" ry="1.3" fill="#424a60" transform="rotate(11 149.9 447.0)"/><ellipse cx="152.3" cy="449.9" rx="1.5" ry="1.2" fill="#a0a8be" transform="rotate(129 152.3 449.9)"/><ellipse cx="154.8" cy="437.3" rx="1.5" ry="1.0" fill="#30364e" transform="rotate(12 154.8 437.3)"/><ellipse cx="147.0" cy="435.2" rx="1.4" ry="1.2" fill="#424a60" transform="rotate(44 147.0 435.2)"/><ellipse cx="124.5" cy="421.2" rx="1.4" ry="1.3" fill="#2a3046" transform="rotate(177 124.5 421.2)"/><ellipse cx="154.0" cy="451.0" rx="2.1" ry="1.0" fill="#30364e" transform="rotate(55 154.0 451.0)"/><ellipse cx="114.4" cy="442.1" rx="2.0" ry="0.9" fill="#5e6880" transform="rotate(40 114.4 442.1)"/><ellipse cx="161.9" cy="432.7" rx="1.8" ry="1.0" fill="#1c2236" transform="rotate(161 161.9 432.7)"/><ellipse cx="146.8" cy="440.3" rx="2.0" ry="1.1" fill="#2a3046" transform="rotate(59 146.8 440.3)"/><ellipse cx="149.3" cy="431.7" rx="1.8" ry="0.9" fill="#3a4058" transform="rotate(8 149.3 431.7)"/><ellipse cx="133.0" cy="423.1" rx="1.4" ry="1.2" fill="#2a3046" transform="rotate(10 133.0 423.1)"/><ellipse cx="158.4" cy="454.0" rx="1.5" ry="1.4" fill="#1c2236" transform="rotate(136 158.4 454.0)"/><ellipse cx="169.2" cy="457.9" rx="1.7" ry="0.9" fill="#8a94aa" transform="rotate(165 169.2 457.9)"/><ellipse cx="123.0" cy="432.3" rx="1.6" ry="1.4" fill="#2a3046" transform="rotate(12 123.0 432.3)"/><ellipse cx="159.7" cy="434.8" rx="1.7" ry="1.0" fill="#30364e" transform="rotate(7 159.7 434.8)"/><ellipse cx="115.3" cy="440.1" rx="1.9" ry="1.3" fill="#5e6880" transform="rotate(147 115.3 440.1)"/><ellipse cx="167.2" cy="424.6" rx="1.5" ry="1.3" fill="#5e6880" transform="rotate(13 167.2 424.6)"/><ellipse cx="165.6" cy="425.3" rx="2.1" ry="1.1" fill="#1c2236" transform="rotate(147 165.6 425.3)"/><ellipse cx="158.6" cy="441.6" rx="1.7" ry="1.4" fill="#3a4058" transform="rotate(143 158.6 441.6)"/><ellipse cx="164.9" cy="448.4" rx="2.0" ry="1.3" fill="#a0a8be" transform="rotate(22 164.9 448.4)"/><ellipse cx="138.6" cy="449.3" rx="1.5" ry="1.3" fill="#8a94aa" transform="rotate(128 138.6 449.3)"/><ellipse cx="157.8" cy="447.2" rx="1.7" ry="1.3" fill="#1c2236" transform="rotate(115 157.8 447.2)"/><ellipse cx="155.9" cy="454.3" rx="1.9" ry="1.0" fill="#424a60" transform="rotate(59 155.9 454.3)"/><ellipse cx="117.3" cy="439.7" rx="1.7" ry="1.0" fill="#5e6880" transform="rotate(180 117.3 439.7)"/><ellipse cx="167.7" cy="447.8" rx="1.9" ry="1.2" fill="#5e6880" transform="rotate(89 167.7 447.8)"/><ellipse cx="119.8" cy="432.8" rx="1.4" ry="1.2" fill="#3a4058" transform="rotate(50 119.8 432.8)"/><ellipse cx="161.0" cy="438.3" rx="1.5" ry="1.3" fill="#3a4058" transform="rotate(118 161.0 438.3)"/><ellipse cx="158.1" cy="441.7" rx="1.3" ry="1.0" fill="#424a60" transform="rotate(103 158.1 441.7)"/><ellipse cx="158.7" cy="446.2" rx="1.8" ry="1.2" fill="#5e6880" transform="rotate(164 158.7 446.2)"/><ellipse cx="158.6" cy="460.0" rx="1.7" ry="1.0" fill="#3a4058" transform="rotate(160 158.6 460.0)"/><ellipse cx="137.0" cy="452.8" rx="1.7" ry="0.8" fill="#a0a8be" transform="rotate(104 137.0 452.8)"/><ellipse cx="145.5" cy="450.1" rx="1.9" ry="1.0" fill="#1c2236" transform="rotate(125 145.5 450.1)"/><ellipse cx="123.9" cy="452.9" rx="1.7" ry="0.9" fill="#5e6880" transform="rotate(147 123.9 452.9)"/><ellipse cx="141.1" cy="426.4" rx="1.8" ry="1.3" fill="#2a3046" transform="rotate(133 141.1 426.4)"/><ellipse cx="132.9" cy="454.3" rx="1.6" ry="1.3" fill="#4c5468" transform="rotate(31 132.9 454.3)"/><ellipse cx="160.7" cy="447.6" rx="1.5" ry="1.0" fill="#8a94aa" transform="rotate(3 160.7 447.6)"/><ellipse cx="156.8" cy="445.9" rx="1.9" ry="1.4" fill="#8a94aa" transform="rotate(134 156.8 445.9)"/><ellipse cx="141.5" cy="424.3" rx="1.9" ry="1.2" fill="#3a4058" transform="rotate(120 141.5 424.3)"/><ellipse cx="154.4" cy="453.2" rx="1.6" ry="1.2" fill="#4c5468" transform="rotate(105 154.4 453.2)"/><ellipse cx="141.9" cy="431.0" rx="1.9" ry="1.1" fill="#4c5468" transform="rotate(58 141.9 431.0)"/><ellipse cx="127.5" cy="435.3" rx="1.8" ry="1.1" fill="#a0a8be" transform="rotate(71 127.5 435.3)"/><ellipse cx="134.0" cy="449.7" rx="1.6" ry="1.2" fill="#424a60" transform="rotate(168 134.0 449.7)"/><ellipse cx="135.9" cy="420.1" rx="1.9" ry="0.9" fill="#1c2236" transform="rotate(88 135.9 420.1)"/><ellipse cx="164.1" cy="433.7" rx="1.9" ry="0.9" fill="#a0a8be" transform="rotate(176 164.1 433.7)"/><ellipse cx="152.0" cy="456.3" rx="1.9" ry="1.3" fill="#30364e" transform="rotate(50 152.0 456.3)"/><ellipse cx="143.8" cy="426.8" rx="1.8" ry="0.9" fill="#424a60" transform="rotate(30 143.8 426.8)"/><ellipse cx="127.2" cy="427.9" rx="1.7" ry="1.1" fill="#424a60" transform="rotate(36 127.2 427.9)"/><ellipse cx="158.6" cy="428.5" rx="1.4" ry="1.0" fill="#2a3046" transform="rotate(178 158.6 428.5)"/><ellipse cx="148.7" cy="450.3" rx="1.6" ry="1.4" fill="#1c2236" transform="rotate(173 148.7 450.3)"/><ellipse cx="113.6" cy="448.8" rx="1.3" ry="0.8" fill="#2a3046" transform="rotate(84 113.6 448.8)"/><ellipse cx="162.7" cy="423.2" rx="1.8" ry="1.0" fill="#a0a8be" transform="rotate(168 162.7 423.2)"/><ellipse cx="134.6" cy="440.4" rx="1.5" ry="1.0" fill="#5e6880" transform="rotate(64 134.6 440.4)"/><ellipse cx="148.1" cy="458.7" rx="1.6" ry="1.1" fill="#424a60" transform="rotate(69 148.1 458.7)"/><ellipse cx="171.1" cy="433.6" rx="1.9" ry="1.0" fill="#424a60" transform="rotate(81 171.1 433.6)"/><ellipse cx="159.5" cy="422.3" rx="1.9" ry="0.8" fill="#3a4058" transform="rotate(141 159.5 422.3)"/><ellipse cx="172.0" cy="444.1" rx="1.4" ry="0.8" fill="#8a94aa" transform="rotate(121 172.0 444.1)"/><ellipse cx="152.0" cy="449.9" rx="1.8" ry="1.2" fill="#30364e" transform="rotate(160 152.0 449.9)"/><ellipse cx="156.7" cy="451.5" rx="1.5" ry="1.2" fill="#3a4058" transform="rotate(117 156.7 451.5)"/><ellipse cx="153.2" cy="424.7" rx="1.6" ry="0.9" fill="#2a3046" transform="rotate(167 153.2 424.7)"/><ellipse cx="130.5" cy="452.6" rx="1.6" ry="1.0" fill="#4c5468" transform="rotate(110 130.5 452.6)"/><ellipse cx="149.0" cy="445.8" rx="1.8" ry="0.8" fill="#424a60" transform="rotate(30 149.0 445.8)"/><ellipse cx="163.9" cy="437.6" rx="1.7" ry="0.8" fill="#a0a8be" transform="rotate(99 163.9 437.6)"/><ellipse cx="119.4" cy="455.7" rx="1.8" ry="0.9" fill="#3a4058" transform="rotate(38 119.4 455.7)"/><ellipse cx="153.3" cy="437.9" rx="2.1" ry="1.3" fill="#3a4058" transform="rotate(55 153.3 437.9)"/><ellipse cx="160.0" cy="428.3" rx="2.0" ry="1.0" fill="#4c5468" transform="rotate(177 160.0 428.3)"/><ellipse cx="169.8" cy="453.6" rx="1.9" ry="1.1" fill="#30364e" transform="rotate(65 169.8 453.6)"/><ellipse cx="152.7" cy="435.9" rx="2.1" ry="1.3" fill="#4c5468" transform="rotate(155 152.7 435.9)"/><ellipse cx="139.8" cy="450.9" rx="1.6" ry="1.2" fill="#3a4058" transform="rotate(161 139.8 450.9)"/><ellipse cx="165.9" cy="440.5" rx="2.1" ry="1.3" fill="#424a60" transform="rotate(145 165.9 440.5)"/><ellipse cx="132.2" cy="430.3" rx="2.0" ry="1.2" fill="#1c2236" transform="rotate(3 132.2 430.3)"/><ellipse cx="168.1" cy="447.0" rx="2.1" ry="0.9" fill="#a0a8be" transform="rotate(99 168.1 447.0)"/><ellipse cx="157.5" cy="447.0" rx="1.5" ry="0.8" fill="#424a60" transform="rotate(67 157.5 447.0)"/><ellipse cx="127.5" cy="423.9" rx="1.5" ry="0.9" fill="#2a3046" transform="rotate(146 127.5 423.9)"/><ellipse cx="147.6" cy="456.1" rx="1.4" ry="1.1" fill="#30364e" transform="rotate(97 147.6 456.1)"/><ellipse cx="122.6" cy="454.7" rx="1.5" ry="0.8" fill="#5e6880" transform="rotate(101 122.6 454.7)"/><ellipse cx="141.7" cy="426.4" rx="1.9" ry="1.1" fill="#2a3046" transform="rotate(22 141.7 426.4)"/><ellipse cx="146.8" cy="434.2" rx="1.8" ry="1.3" fill="#a0a8be" transform="rotate(133 146.8 434.2)"/><ellipse cx="131.3" cy="442.0" rx="1.5" ry="0.9" fill="#5e6880" transform="rotate(179 131.3 442.0)"/><ellipse cx="129.1" cy="445.7" rx="2.0" ry="0.9" fill="#30364e" transform="rotate(126 129.1 445.7)"/><ellipse cx="135.1" cy="421.2" rx="1.4" ry="1.2" fill="#3a4058" transform="rotate(88 135.1 421.2)"/><ellipse cx="128.4" cy="447.3" rx="2.1" ry="1.3" fill="#5e6880" transform="rotate(124 128.4 447.3)"/><ellipse cx="150.4" cy="426.8" rx="1.6" ry="1.4" fill="#8a94aa" transform="rotate(151 150.4 426.8)"/><ellipse cx="170.9" cy="439.5" rx="2.0" ry="1.2" fill="#3a4058" transform="rotate(30 170.9 439.5)"/><ellipse cx="159.1" cy="420.4" rx="1.8" ry="1.4" fill="#5e6880" transform="rotate(171 159.1 420.4)"/><ellipse cx="144.7" cy="425.2" rx="2.1" ry="1.4" fill="#1c2236" transform="rotate(56 144.7 425.2)"/><ellipse cx="161.4" cy="455.3" rx="1.4" ry="1.3" fill="#3a4058" transform="rotate(50 161.4 455.3)"/><ellipse cx="156.9" cy="431.2" rx="1.7" ry="1.0" fill="#3a4058" transform="rotate(99 156.9 431.2)"/><ellipse cx="117.1" cy="440.7" rx="1.9" ry="1.3" fill="#5e6880" transform="rotate(3 117.1 440.7)"/><ellipse cx="141.9" cy="463.2" rx="2.0" ry="0.9" fill="#4c5468" transform="rotate(158 141.9 463.2)"/><ellipse cx="140.4" cy="420.7" rx="1.8" ry="1.1" fill="#2a3046" transform="rotate(86 140.4 420.7)"/><ellipse cx="131.4" cy="427.9" rx="1.4" ry="0.9" fill="#1c2236" transform="rotate(14 131.4 427.9)"/><ellipse cx="121.2" cy="439.2" rx="2.0" ry="1.0" fill="#424a60" transform="rotate(105 121.2 439.2)"/><ellipse cx="129.6" cy="457.5" rx="1.6" ry="1.3" fill="#3a4058" transform="rotate(29 129.6 457.5)"/><ellipse cx="119.2" cy="442.4" rx="1.7" ry="1.3" fill="#5e6880" transform="rotate(30 119.2 442.4)"/><ellipse cx="126.8" cy="426.2" rx="2.1" ry="1.4" fill="#8a94aa" transform="rotate(24 126.8 426.2)"/><ellipse cx="136.3" cy="437.3" rx="1.4" ry="1.2" fill="#8a94aa" transform="rotate(113 136.3 437.3)"/><ellipse cx="166.3" cy="433.4" rx="1.9" ry="1.4" fill="#2a3046" transform="rotate(73 166.3 433.4)"/><ellipse cx="121.6" cy="438.3" rx="1.5" ry="0.9" fill="#5e6880" transform="rotate(46 121.6 438.3)"/><ellipse cx="145.8" cy="427.7" rx="2.0" ry="1.3" fill="#3a4058" transform="rotate(126 145.8 427.7)"/><ellipse cx="163.0" cy="424.8" rx="1.8" ry="0.9" fill="#5e6880" transform="rotate(16 163.0 424.8)"/><ellipse cx="158.0" cy="442.7" rx="1.7" ry="1.0" fill="#2a3046" transform="rotate(72 158.0 442.7)"/><ellipse cx="171.0" cy="429.5" rx="1.3" ry="1.2" fill="#1c2236" transform="rotate(147 171.0 429.5)"/><ellipse cx="140.3" cy="442.5" rx="2.0" ry="1.3" fill="#5e6880" transform="rotate(82 140.3 442.5)"/><ellipse cx="164.3" cy="460.8" rx="1.5" ry="0.9" fill="#2a3046" transform="rotate(126 164.3 460.8)"/><ellipse cx="140.3" cy="417.0" rx="1.3" ry="1.4" fill="#4c5468" transform="rotate(57 140.3 417.0)"/><ellipse cx="152.8" cy="424.4" rx="2.0" ry="0.8" fill="#30364e" transform="rotate(24 152.8 424.4)"/><ellipse cx="168.5" cy="448.8" rx="1.9" ry="0.9" fill="#5e6880" transform="rotate(24 168.5 448.8)"/><ellipse cx="143.7" cy="441.7" rx="1.4" ry="1.3" fill="#3a4058" transform="rotate(138 143.7 441.7)"/><ellipse cx="150.8" cy="460.5" rx="1.9" ry="0.9" fill="#424a60" transform="rotate(4 150.8 460.5)"/><ellipse cx="175.7" cy="435.9" rx="1.3" ry="1.4" fill="#30364e" transform="rotate(13 175.7 435.9)"/><ellipse cx="164.1" cy="433.3" rx="1.9" ry="1.3" fill="#1c2236" transform="rotate(144 164.1 433.3)"/><ellipse cx="138.6" cy="448.6" rx="1.4" ry="1.0" fill="#30364e" transform="rotate(51 138.6 448.6)"/><ellipse cx="153.8" cy="457.8" rx="1.3" ry="1.2" fill="#2a3046" transform="rotate(68 153.8 457.8)"/><ellipse cx="174.3" cy="448.1" rx="1.8" ry="1.0" fill="#2a3046" transform="rotate(133 174.3 448.1)"/><ellipse cx="116.3" cy="433.8" rx="1.8" ry="1.4" fill="#2a3046" transform="rotate(131 116.3 433.8)"/><ellipse cx="175.3" cy="438.6" rx="2.0" ry="1.1" fill="#8a94aa" transform="rotate(70 175.3 438.6)"/><ellipse cx="125.7" cy="420.3" rx="1.8" ry="1.1" fill="#424a60" transform="rotate(166 125.7 420.3)"/><ellipse cx="136.0" cy="444.2" rx="1.5" ry="1.1" fill="#30364e" transform="rotate(79 136.0 444.2)"/><ellipse cx="131.5" cy="432.6" rx="1.5" ry="1.3" fill="#5e6880" transform="rotate(40 131.5 432.6)"/><ellipse cx="147.9" cy="447.2" rx="1.7" ry="1.3" fill="#2a3046" transform="rotate(90 147.9 447.2)"/><ellipse cx="161.1" cy="421.4" rx="1.6" ry="1.2" fill="#4c5468" transform="rotate(35 161.1 421.4)"/><ellipse cx="156.8" cy="447.7" rx="1.4" ry="1.3" fill="#30364e" transform="rotate(121 156.8 447.7)"/><ellipse cx="127.5" cy="448.5" rx="1.6" ry="0.9" fill="#4c5468" transform="rotate(105 127.5 448.5)"/><ellipse cx="163.3" cy="446.2" rx="1.6" ry="1.3" fill="#4c5468" transform="rotate(159 163.3 446.2)"/><ellipse cx="151.9" cy="435.4" rx="1.5" ry="1.0" fill="#424a60" transform="rotate(90 151.9 435.4)"/><ellipse cx="136.3" cy="444.6" rx="1.3" ry="1.2" fill="#1c2236" transform="rotate(127 136.3 444.6)"/><ellipse cx="135.6" cy="431.3" rx="1.6" ry="1.0" fill="#4c5468" transform="rotate(59 135.6 431.3)"/><ellipse cx="168.9" cy="459.3" rx="2.1" ry="1.3" fill="#5e6880" transform="rotate(2 168.9 459.3)"/><ellipse cx="129.8" cy="443.6" rx="1.7" ry="1.1" fill="#a0a8be" transform="rotate(175 129.8 443.6)"/><ellipse cx="139.2" cy="439.8" rx="1.7" ry="0.8" fill="#1c2236" transform="rotate(17 139.2 439.8)"/><ellipse cx="146.0" cy="420.8" rx="1.8" ry="1.4" fill="#a0a8be" transform="rotate(39 146.0 420.8)"/><ellipse cx="139.9" cy="448.2" rx="1.9" ry="1.2" fill="#1c2236" transform="rotate(23 139.9 448.2)"/><ellipse cx="120.5" cy="432.2" rx="1.7" ry="0.9" fill="#8a94aa" transform="rotate(75 120.5 432.2)"/><ellipse cx="157.9" cy="458.4" rx="1.8" ry="1.1" fill="#a0a8be" transform="rotate(130 157.9 458.4)"/><ellipse cx="112.5" cy="445.1" rx="1.9" ry="0.8" fill="#2a3046" transform="rotate(0 112.5 445.1)"/><ellipse cx="130.3" cy="451.6" rx="1.6" ry="0.9" fill="#8a94aa" transform="rotate(3 130.3 451.6)"/><ellipse cx="156.3" cy="425.9" rx="1.8" ry="1.3" fill="#30364e" transform="rotate(136 156.3 425.9)"/><ellipse cx="145.2" cy="423.2" rx="1.4" ry="1.1" fill="#3a4058" transform="rotate(130 145.2 423.2)"/><ellipse cx="145.8" cy="458.5" rx="1.8" ry="1.2" fill="#2a3046" transform="rotate(148 145.8 458.5)"/><ellipse cx="131.4" cy="452.9" rx="1.3" ry="1.2" fill="#4c5468" transform="rotate(149 131.4 452.9)"/><ellipse cx="125.4" cy="427.3" rx="1.6" ry="1.3" fill="#4c5468" transform="rotate(116 125.4 427.3)"/><ellipse cx="130.1" cy="447.0" rx="2.1" ry="0.8" fill="#424a60" transform="rotate(173 130.1 447.0)"/><ellipse cx="136.3" cy="453.1" rx="1.6" ry="1.2" fill="#8a94aa" transform="rotate(5 136.3 453.1)"/><ellipse cx="165.3" cy="428.4" rx="1.6" ry="0.8" fill="#1c2236" transform="rotate(74 165.3 428.4)"/><ellipse cx="136.7" cy="434.6" rx="1.6" ry="1.2" fill="#a0a8be" transform="rotate(31 136.7 434.6)"/><ellipse cx="138.6" cy="463.2" rx="1.5" ry="1.0" fill="#a0a8be" transform="rotate(60 138.6 463.2)"/><ellipse cx="139.6" cy="430.2" rx="1.5" ry="0.9" fill="#4c5468" transform="rotate(50 139.6 430.2)"/><ellipse cx="127.6" cy="459.1" rx="1.7" ry="1.3" fill="#424a60" transform="rotate(61 127.6 459.1)"/><ellipse cx="119.7" cy="434.1" rx="1.8" ry="1.1" fill="#a0a8be" transform="rotate(76 119.7 434.1)"/><ellipse cx="176.7" cy="442.0" rx="1.8" ry="1.4" fill="#424a60" transform="rotate(66 176.7 442.0)"/><ellipse cx="151.1" cy="438.6" rx="1.5" ry="1.2" fill="#30364e" transform="rotate(54 151.1 438.6)"/><ellipse cx="117.2" cy="454.7" rx="1.7" ry="1.0" fill="#3a4058" transform="rotate(98 117.2 454.7)"/><ellipse cx="164.1" cy="427.7" rx="1.4" ry="1.3" fill="#3a4058" transform="rotate(128 164.1 427.7)"/><ellipse cx="162.8" cy="425.7" rx="1.5" ry="0.9" fill="#3a4058" transform="rotate(102 162.8 425.7)"/><ellipse cx="128.5" cy="436.7" rx="2.0" ry="0.9" fill="#4c5468" transform="rotate(93 128.5 436.7)"/><ellipse cx="157.1" cy="450.2" rx="1.3" ry="1.2" fill="#a0a8be" transform="rotate(118 157.1 450.2)"/><ellipse cx="126.1" cy="459.7" rx="1.4" ry="0.9" fill="#3a4058" transform="rotate(155 126.1 459.7)"/><ellipse cx="161.1" cy="452.8" rx="1.8" ry="1.1" fill="#2a3046" transform="rotate(77 161.1 452.8)"/><ellipse cx="119.4" cy="454.1" rx="1.8" ry="0.9" fill="#4c5468" transform="rotate(127 119.4 454.1)"/><ellipse cx="159.8" cy="428.9" rx="2.0" ry="0.9" fill="#1c2236" transform="rotate(167 159.8 428.9)"/><ellipse cx="128.8" cy="417.9" rx="2.1" ry="1.2" fill="#2a3046" transform="rotate(9 128.8 417.9)"/><ellipse cx="165.2" cy="426.6" rx="1.6" ry="1.2" fill="#3a4058" transform="rotate(157 165.2 426.6)"/><ellipse cx="167.9" cy="430.3" rx="1.7" ry="1.0" fill="#a0a8be" transform="rotate(128 167.9 430.3)"/><ellipse cx="161.4" cy="458.9" rx="1.7" ry="1.2" fill="#424a60" transform="rotate(52 161.4 458.9)"/><ellipse cx="139.0" cy="442.3" rx="1.7" ry="0.9" fill="#4c5468" transform="rotate(179 139.0 442.3)"/><ellipse cx="167.6" cy="444.8" rx="2.1" ry="1.2" fill="#4c5468" transform="rotate(139 167.6 444.8)"/><ellipse cx="133.2" cy="420.5" rx="1.4" ry="1.2" fill="#4c5468" transform="rotate(171 133.2 420.5)"/><ellipse cx="143.0" cy="452.4" rx="1.4" ry="1.2" fill="#424a60" transform="rotate(178 143.0 452.4)"/><ellipse cx="148.8" cy="433.0" rx="1.6" ry="1.4" fill="#30364e" transform="rotate(173 148.8 433.0)"/><ellipse cx="156.2" cy="446.8" rx="2.0" ry="0.9" fill="#a0a8be" transform="rotate(74 156.2 446.8)"/><ellipse cx="172.7" cy="431.5" rx="1.7" ry="0.9" fill="#8a94aa" transform="rotate(83 172.7 431.5)"/><ellipse cx="140.2" cy="445.3" rx="1.4" ry="0.8" fill="#30364e" transform="rotate(124 140.2 445.3)"/><ellipse cx="114.2" cy="453.0" rx="1.4" ry="1.1" fill="#8a94aa" transform="rotate(111 114.2 453.0)"/><ellipse cx="143.4" cy="456.5" rx="2.0" ry="1.2" fill="#1c2236" transform="rotate(160 143.4 456.5)"/><ellipse cx="152.4" cy="453.7" rx="1.4" ry="1.2" fill="#5e6880" transform="rotate(6 152.4 453.7)"/><ellipse cx="164.0" cy="459.4" rx="2.1" ry="1.1" fill="#4c5468" transform="rotate(174 164.0 459.4)"/><ellipse cx="120.3" cy="456.5" rx="1.6" ry="1.2" fill="#1c2236" transform="rotate(91 120.3 456.5)"/><ellipse cx="131.3" cy="434.9" rx="2.0" ry="1.0" fill="#1c2236" transform="rotate(14 131.3 434.9)"/><ellipse cx="111.2" cy="445.2" rx="2.0" ry="1.4" fill="#a0a8be" transform="rotate(126 111.2 445.2)"/><ellipse cx="138.7" cy="453.7" rx="1.4" ry="0.9" fill="#3a4058" transform="rotate(35 138.7 453.7)"/><ellipse cx="169.8" cy="456.6" rx="1.4" ry="0.8" fill="#8a94aa" transform="rotate(107 169.8 456.6)"/><ellipse cx="156.8" cy="445.2" rx="1.6" ry="1.1" fill="#30364e" transform="rotate(136 156.8 445.2)"/><ellipse cx="177.5" cy="447.9" rx="1.9" ry="1.0" fill="#2a3046" transform="rotate(168 177.5 447.9)"/><ellipse cx="129.6" cy="445.4" rx="1.8" ry="0.9" fill="#424a60" transform="rotate(87 129.6 445.4)"/><ellipse cx="146.4" cy="448.7" rx="1.8" ry="1.1" fill="#5e6880" transform="rotate(21 146.4 448.7)"/><ellipse cx="118.8" cy="445.8" rx="1.6" ry="0.9" fill="#a0a8be" transform="rotate(112 118.8 445.8)"/><ellipse cx="136.7" cy="421.6" rx="1.7" ry="0.9" fill="#5e6880" transform="rotate(64 136.7 421.6)"/><ellipse cx="155.0" cy="425.5" rx="1.5" ry="1.1" fill="#424a60" transform="rotate(138 155.0 425.5)"/><ellipse cx="149.4" cy="421.6" rx="2.0" ry="1.2" fill="#3a4058" transform="rotate(112 149.4 421.6)"/><ellipse cx="117.9" cy="441.9" rx="1.8" ry="1.4" fill="#3a4058" transform="rotate(131 117.9 441.9)"/><ellipse cx="164.0" cy="422.8" rx="1.6" ry="0.8" fill="#2a3046" transform="rotate(10 164.0 422.8)"/><ellipse cx="129.8" cy="452.5" rx="1.8" ry="1.3" fill="#3a4058" transform="rotate(144 129.8 452.5)"/><ellipse cx="116.5" cy="453.6" rx="1.9" ry="1.0" fill="#1c2236" transform="rotate(174 116.5 453.6)"/><ellipse cx="145.1" cy="443.0" rx="1.3" ry="1.2" fill="#424a60" transform="rotate(25 145.1 443.0)"/><ellipse cx="133.8" cy="432.7" rx="2.0" ry="1.2" fill="#2a3046" transform="rotate(65 133.8 432.7)"/><ellipse cx="133.7" cy="451.8" rx="1.4" ry="0.8" fill="#424a60" transform="rotate(28 133.7 451.8)"/><ellipse cx="168.4" cy="446.3" rx="2.1" ry="0.8" fill="#8a94aa" transform="rotate(87 168.4 446.3)"/><ellipse cx="152.9" cy="449.2" rx="2.1" ry="1.2" fill="#424a60" transform="rotate(114 152.9 449.2)"/><ellipse cx="136.5" cy="461.1" rx="1.6" ry="1.1" fill="#3a4058" transform="rotate(79 136.5 461.1)"/><ellipse cx="172.6" cy="446.3" rx="2.0" ry="1.2" fill="#4c5468" transform="rotate(84 172.6 446.3)"/><ellipse cx="149.7" cy="435.9" rx="1.6" ry="1.1" fill="#2a3046" transform="rotate(58 149.7 435.9)"/><ellipse cx="127.8" cy="429.9" rx="1.6" ry="1.1" fill="#8a94aa" transform="rotate(149 127.8 429.9)"/><ellipse cx="148.6" cy="455.8" rx="1.8" ry="1.2" fill="#a0a8be" transform="rotate(92 148.6 455.8)"/><ellipse cx="165.2" cy="456.9" rx="1.8" ry="1.0" fill="#4c5468" transform="rotate(87 165.2 456.9)"/><ellipse cx="161.4" cy="442.2" rx="2.0" ry="1.2" fill="#1c2236" transform="rotate(85 161.4 442.2)"/><ellipse cx="125.7" cy="427.9" rx="1.5" ry="1.3" fill="#4c5468" transform="rotate(171 125.7 427.9)"/><ellipse cx="140.8" cy="438.9" rx="2.0" ry="1.2" fill="#8a94aa" transform="rotate(36 140.8 438.9)"/><ellipse cx="129.9" cy="431.7" rx="1.8" ry="1.4" fill="#30364e" transform="rotate(18 129.9 431.7)"/><ellipse cx="174.5" cy="446.0" rx="1.5" ry="1.0" fill="#4c5468" transform="rotate(119 174.5 446.0)"/><ellipse cx="133.9" cy="456.0" rx="2.0" ry="1.0" fill="#3a4058" transform="rotate(44 133.9 456.0)"/><ellipse cx="128.1" cy="429.1" rx="1.8" ry="0.9" fill="#4c5468" transform="rotate(5 128.1 429.1)"/><ellipse cx="123.9" cy="436.5" rx="2.0" ry="1.2" fill="#8a94aa" transform="rotate(50 123.9 436.5)"/><ellipse cx="149.6" cy="453.1" rx="1.7" ry="1.3" fill="#8a94aa" transform="rotate(163 149.6 453.1)"/><ellipse cx="152.1" cy="457.3" rx="1.9" ry="0.9" fill="#a0a8be" transform="rotate(156 152.1 457.3)"/><ellipse cx="133.2" cy="469.2" rx="2" ry="1.3" fill="#39415a"/><ellipse cx="138.2" cy="467.2" rx="2" ry="1.3" fill="#39415a"/><ellipse cx="143.7" cy="468.2" rx="2" ry="1.3" fill="#39415a"/><ellipse cx="154.2" cy="466.2" rx="2" ry="1.3" fill="#39415a"/><ellipse cx="169.2" cy="468.2" rx="2" ry="1.3" fill="#39415a"/><ellipse cx="168.2" cy="463.2" rx="2" ry="1.3" fill="#39415a"/><ellipse cx="159.2" cy="465.7" rx="2" ry="1.3" fill="#39415a"/><ellipse cx="148.2" cy="466.2" rx="2" ry="1.3" fill="#39415a"/><ellipse cx="120.2" cy="460.7" rx="2" ry="1.3" fill="#39415a"/><ellipse cx="118.2" cy="456.7" rx="2" ry="1.3" fill="#39415a"/></g></g>
<circle cx="144.20" cy="448.70" r="35.9" fill="none" stroke="#dd3f20" stroke-width="6.8"/>

<path d="M144.00,318.80 L200.70,318.80 A4.6,4.6 0 0 1 205.30,323.40 L205.30,332.20 A4.6,4.6 0 0 1 200.70,336.80 L144.00,336.80 L144.00,318.80 Z" fill="#dd3f20"/>
<text transform="translate(157.66,333.50) scale(0.3877,0.4179)" font-size="40" font-weight="bold" fill="#fff">2018</text>
<path d="M87.80,329.80 L146.00,329.80 L146.00,347.80 L87.80,347.80 A4.6,4.6 0 0 1 83.20,343.20 L83.20,334.40 A4.6,4.6 0 0 1 87.80,329.80 Z" fill="#dd3f20"/>
<text transform="translate(96.61,344.50) scale(0.3886,0.4179)" font-size="40" font-weight="bold" fill="#fff">2019</text>
<text transform="translate(153.18,360.80) scale(0.5572,0.5929)" font-size="40" font-weight="bold" fill="#dd3f20" stroke="#dd3f20" stroke-width="0.87">50,3</text>
<text transform="translate(92.92,369.30) scale(0.5554,0.5929)" font-size="40" font-weight="bold" fill="#dd3f20" stroke="#dd3f20" stroke-width="0.87">41,9</text>
<path d="M213.50,448.00 L230.00,448.00 A49.3,49.3 0 0 1 328.60,448.00 L328.60,448.60" fill="none" stroke="#70005f" stroke-width="3" stroke-linejoin="miter"/>
<circle cx="213.50" cy="448.00" r="4" fill="#70005f"/>
<rect x="278.80" y="312.40" width="2.4" height="86.80" fill="#70005f"/>
<circle cx="280.00" cy="312.40" r="4" fill="#70005f"/>
<clipPath id="clip_280_449"><circle cx="279.80" cy="448.60" r="34"/></clipPath><g clip-path="url(#clip_280_449)"><circle cx="279.8" cy="448.6" r="34" fill="#6c7288"/><g filter="url(#bl05)"><polygon points="313.2,445.2 313.5,447.8 312.5,450.2 311.1,452.5 309.9,454.7 308.7,456.8 307.1,458.8 305.0,460.4 302.7,461.7 301.0,463.4 299.8,465.6 298.4,467.9 296.4,469.7 293.8,470.6 291.1,471.2 288.5,471.9 285.9,472.7 283.2,473.3 280.4,473.2 277.7,472.4 275.0,472.0 272.2,472.1 269.3,472.0 266.7,471.1 264.6,469.3 263.0,467.1 261.3,465.3 259.3,463.8 257.3,462.3 255.8,460.4 254.5,458.4 252.9,456.5 250.7,454.7 248.7,452.7 247.6,450.3 247.8,447.7 248.6,445.2 249.5,442.8 249.9,440.4 250.3,438.1 251.3,435.8 252.7,433.8 254.0,431.7 255.0,429.5 256.1,427.2 258.0,425.5 260.7,424.4 263.4,423.8 265.7,422.8 267.7,421.2 269.8,419.5 272.2,418.2 274.8,417.4 277.6,416.8 280.4,416.2 283.3,416.0 286.1,416.7 288.5,418.4 290.7,420.3 292.8,421.7 295.3,422.4 298.0,423.0 300.4,424.2 302.2,425.9 303.9,427.8 305.8,429.5 307.6,431.3 308.9,433.5 309.4,435.9 309.5,438.3 310.3,440.6 311.8,442.8" fill="#e6e2d6"/><circle cx="277.2" cy="448.8" r="1.3" fill="#d6d0c0"/><circle cx="304.5" cy="426.6" r="1.4" fill="#d6d0c0"/><circle cx="290.9" cy="452.1" r="1.6" fill="#ffffff"/><circle cx="287.2" cy="461.9" r="1.6" fill="#faf8f0"/><circle cx="281.7" cy="453.6" r="1.1" fill="#c8c2b0"/><circle cx="290.9" cy="439.6" r="1.1" fill="#f0ece0"/><circle cx="263.7" cy="460.7" r="1.0" fill="#ffffff"/><circle cx="298.5" cy="439.2" r="1.0" fill="#d6d0c0"/><circle cx="294.6" cy="440.4" r="1.5" fill="#f4f0e6"/><circle cx="300.6" cy="425.9" r="1.4" fill="#d6d0c0"/><circle cx="272.5" cy="438.9" r="1.2" fill="#ffffff"/><circle cx="304.5" cy="453.7" r="1.1" fill="#f4f0e6"/><circle cx="264.0" cy="461.6" r="1.3" fill="#e8e4d6"/><circle cx="255.1" cy="450.4" r="1.6" fill="#f4f0e6"/><circle cx="258.8" cy="424.4" r="1.4" fill="#f0ece0"/><circle cx="295.7" cy="424.7" r="1.1" fill="#faf8f0"/><circle cx="275.1" cy="421.4" r="1.2" fill="#e8e4d6"/><circle cx="294.3" cy="430.6" r="1.3" fill="#faf8f0"/><circle cx="281.8" cy="471.0" r="1.2" fill="#f4f0e6"/><circle cx="284.4" cy="466.3" r="1.1" fill="#e8e4d6"/><circle cx="274.4" cy="430.1" r="1.3" fill="#e8e4d6"/><circle cx="285.3" cy="423.1" r="1.7" fill="#d6d0c0"/><circle cx="291.1" cy="456.7" r="1.4" fill="#f4f0e6"/><circle cx="309.2" cy="443.7" r="1.7" fill="#e8e4d6"/><circle cx="296.1" cy="434.3" r="1.3" fill="#ffffff"/><circle cx="271.4" cy="417.9" r="1.5" fill="#c8c2b0"/><circle cx="293.0" cy="469.3" r="1.7" fill="#d6d0c0"/><circle cx="248.5" cy="445.2" r="1.3" fill="#c8c2b0"/><circle cx="286.0" cy="451.7" r="1.1" fill="#c8c2b0"/><circle cx="263.9" cy="440.2" r="1.5" fill="#c8c2b0"/><circle cx="277.5" cy="443.0" r="1.5" fill="#faf8f0"/><circle cx="248.4" cy="451.3" r="1.7" fill="#f4f0e6"/><circle cx="279.5" cy="469.0" r="1.5" fill="#f4f0e6"/><circle cx="260.2" cy="425.4" r="1.7" fill="#c8c2b0"/><circle cx="280.3" cy="429.7" r="1.1" fill="#e8e4d6"/><circle cx="275.7" cy="463.6" r="1.3" fill="#f4f0e6"/><circle cx="286.1" cy="434.2" r="1.2" fill="#d6d0c0"/><circle cx="278.5" cy="470.7" r="1.4" fill="#d6d0c0"/><circle cx="280.0" cy="434.1" r="1.3" fill="#faf8f0"/><circle cx="267.4" cy="462.7" r="1.3" fill="#f4f0e6"/><circle cx="259.3" cy="461.4" r="1.1" fill="#f0ece0"/><circle cx="249.6" cy="453.0" r="1.4" fill="#c8c2b0"/><circle cx="289.9" cy="437.3" r="1.1" fill="#f4f0e6"/><circle cx="278.7" cy="425.9" r="1.4" fill="#d6d0c0"/><circle cx="283.1" cy="472.0" r="1.1" fill="#f0ece0"/><circle cx="304.1" cy="457.2" r="1.7" fill="#d6d0c0"/><circle cx="295.5" cy="423.0" r="1.6" fill="#c8c2b0"/><circle cx="246.9" cy="448.2" r="1.6" fill="#faf8f0"/><circle cx="310.6" cy="443.0" r="1.1" fill="#f4f0e6"/><circle cx="305.3" cy="463.1" r="1.1" fill="#ffffff"/><circle cx="282.9" cy="462.6" r="1.6" fill="#c8c2b0"/><circle cx="270.1" cy="420.2" r="1.3" fill="#faf8f0"/><circle cx="305.4" cy="440.9" r="1.2" fill="#faf8f0"/><circle cx="281.5" cy="458.6" r="1.3" fill="#c8c2b0"/><circle cx="306.2" cy="449.9" r="1.2" fill="#f0ece0"/><circle cx="282.2" cy="432.6" r="1.1" fill="#c8c2b0"/><circle cx="281.4" cy="469.6" r="1.3" fill="#c8c2b0"/><circle cx="285.4" cy="427.3" r="1.0" fill="#faf8f0"/><circle cx="272.0" cy="447.5" r="1.4" fill="#d6d0c0"/><circle cx="263.1" cy="444.8" r="1.7" fill="#f0ece0"/><circle cx="309.0" cy="446.7" r="1.4" fill="#d6d0c0"/><circle cx="293.1" cy="434.5" r="1.3" fill="#faf8f0"/><circle cx="280.4" cy="450.1" r="1.2" fill="#faf8f0"/><circle cx="259.8" cy="447.0" r="1.4" fill="#d6d0c0"/><circle cx="302.5" cy="452.1" r="1.4" fill="#f0ece0"/><circle cx="289.8" cy="447.0" r="1.4" fill="#faf8f0"/><circle cx="270.0" cy="426.1" r="1.2" fill="#f4f0e6"/><circle cx="262.7" cy="458.8" r="1.3" fill="#ffffff"/><circle cx="310.4" cy="447.8" r="1.3" fill="#f4f0e6"/><circle cx="292.8" cy="469.9" r="1.5" fill="#ffffff"/><circle cx="289.6" cy="435.8" r="1.1" fill="#f0ece0"/><circle cx="283.9" cy="446.1" r="1.1" fill="#f4f0e6"/><circle cx="265.7" cy="455.6" r="1.7" fill="#f4f0e6"/><circle cx="277.8" cy="461.1" r="1.3" fill="#d6d0c0"/><circle cx="270.5" cy="427.8" r="1.5" fill="#c8c2b0"/><circle cx="296.7" cy="439.5" r="1.1" fill="#f4f0e6"/><circle cx="300.3" cy="434.6" r="1.5" fill="#f0ece0"/><circle cx="304.9" cy="453.0" r="1.1" fill="#faf8f0"/><circle cx="286.2" cy="435.7" r="1.6" fill="#e8e4d6"/><circle cx="297.0" cy="461.9" r="1.1" fill="#d6d0c0"/><circle cx="268.8" cy="447.5" r="1.5" fill="#d6d0c0"/><circle cx="274.0" cy="458.6" r="1.2" fill="#e8e4d6"/><circle cx="274.0" cy="426.1" r="1.7" fill="#faf8f0"/><circle cx="290.1" cy="457.3" r="1.0" fill="#faf8f0"/><circle cx="288.2" cy="459.5" r="1.4" fill="#d6d0c0"/><circle cx="298.2" cy="454.1" r="1.2" fill="#e8e4d6"/><circle cx="308.0" cy="448.2" r="1.4" fill="#faf8f0"/><circle cx="251.6" cy="451.1" r="1.3" fill="#ffffff"/><circle cx="310.2" cy="438.4" r="1.3" fill="#f0ece0"/><circle cx="288.0" cy="418.7" r="1.2" fill="#d6d0c0"/><circle cx="273.5" cy="433.9" r="1.5" fill="#d6d0c0"/><circle cx="284.5" cy="432.2" r="1.0" fill="#e8e4d6"/><circle cx="298.9" cy="450.3" r="1.5" fill="#d6d0c0"/><circle cx="272.9" cy="469.1" r="1.4" fill="#ffffff"/><circle cx="295.6" cy="434.4" r="1.3" fill="#f4f0e6"/><circle cx="278.9" cy="473.6" r="1.1" fill="#faf8f0"/><circle cx="249.8" cy="440.2" r="1.0" fill="#f0ece0"/><circle cx="282.3" cy="422.7" r="1.3" fill="#c8c2b0"/><circle cx="287.3" cy="453.6" r="1.5" fill="#e8e4d6"/><circle cx="282.5" cy="475.1" r="1.1" fill="#c8c2b0"/><circle cx="279.1" cy="445.4" r="1.4" fill="#faf8f0"/><circle cx="270.8" cy="431.5" r="1.5" fill="#faf8f0"/><circle cx="259.3" cy="431.9" r="1.4" fill="#f4f0e6"/><circle cx="290.8" cy="427.0" r="1.0" fill="#c8c2b0"/><circle cx="264.8" cy="440.7" r="1.2" fill="#ffffff"/><circle cx="265.3" cy="460.5" r="1.4" fill="#f4f0e6"/><circle cx="289.3" cy="437.6" r="1.2" fill="#f4f0e6"/><circle cx="280.0" cy="423.2" r="1.1" fill="#f0ece0"/><circle cx="301.4" cy="452.6" r="1.3" fill="#f4f0e6"/><circle cx="297.2" cy="438.6" r="1.5" fill="#f4f0e6"/><circle cx="271.5" cy="421.0" r="1.4" fill="#ffffff"/><circle cx="275.8" cy="449.3" r="1.2" fill="#d6d0c0"/><circle cx="291.4" cy="420.1" r="1.5" fill="#c8c2b0"/><circle cx="268.7" cy="468.1" r="1.5" fill="#c8c2b0"/><circle cx="271.3" cy="422.2" r="1.4" fill="#faf8f0"/><circle cx="307.8" cy="456.4" r="1.6" fill="#faf8f0"/><circle cx="267.1" cy="434.3" r="1.6" fill="#c8c2b0"/><circle cx="263.3" cy="436.9" r="1.5" fill="#e8e4d6"/><circle cx="286.2" cy="463.0" r="1.6" fill="#e8e4d6"/><circle cx="283.2" cy="465.4" r="1.1" fill="#f4f0e6"/><circle cx="277.3" cy="466.5" r="1.4" fill="#f4f0e6"/><circle cx="283.4" cy="449.2" r="1.6" fill="#c8c2b0"/><circle cx="275.1" cy="450.1" r="1.1" fill="#faf8f0"/><circle cx="252.0" cy="459.4" r="1.0" fill="#ffffff"/><circle cx="290.8" cy="421.0" r="1.2" fill="#d6d0c0"/><circle cx="261.4" cy="461.1" r="1.3" fill="#f0ece0"/><circle cx="270.2" cy="463.6" r="1.3" fill="#f4f0e6"/><circle cx="282.9" cy="458.5" r="1.3" fill="#ffffff"/><circle cx="302.6" cy="455.2" r="1.3" fill="#f0ece0"/><circle cx="252.5" cy="443.1" r="1.4" fill="#ffffff"/><circle cx="294.7" cy="463.3" r="1.6" fill="#d6d0c0"/><circle cx="263.1" cy="424.9" r="1.1" fill="#c8c2b0"/><circle cx="260.3" cy="440.7" r="1.3" fill="#ffffff"/><circle cx="296.1" cy="433.4" r="1.6" fill="#f4f0e6"/><circle cx="300.8" cy="434.0" r="1.2" fill="#e8e4d6"/><circle cx="262.4" cy="458.2" r="1.3" fill="#f4f0e6"/><circle cx="307.2" cy="439.3" r="1.4" fill="#e8e4d6"/><circle cx="310.5" cy="448.2" r="1.6" fill="#d6d0c0"/><circle cx="308.6" cy="435.7" r="1.3" fill="#ffffff"/><circle cx="300.9" cy="438.3" r="1.5" fill="#faf8f0"/><circle cx="277.0" cy="430.0" r="1.1" fill="#f0ece0"/><circle cx="257.1" cy="434.5" r="1.6" fill="#f0ece0"/><circle cx="255.3" cy="459.7" r="1.4" fill="#faf8f0"/><circle cx="256.6" cy="461.4" r="1.6" fill="#f0ece0"/><circle cx="288.2" cy="446.9" r="1.3" fill="#c8c2b0"/><circle cx="311.4" cy="450.4" r="1.0" fill="#e8e4d6"/><circle cx="259.2" cy="426.8" r="1.6" fill="#f0ece0"/><circle cx="260.6" cy="447.8" r="1.7" fill="#f4f0e6"/><circle cx="291.8" cy="455.8" r="1.6" fill="#f0ece0"/><circle cx="294.7" cy="429.4" r="1.5" fill="#d6d0c0"/><circle cx="297.7" cy="448.5" r="1.1" fill="#f4f0e6"/><circle cx="296.1" cy="435.0" r="1.3" fill="#faf8f0"/><circle cx="289.9" cy="442.0" r="1.1" fill="#ffffff"/><circle cx="252.8" cy="455.9" r="1.1" fill="#f4f0e6"/><circle cx="248.9" cy="443.0" r="1.2" fill="#ffffff"/><circle cx="281.2" cy="454.0" r="1.5" fill="#f0ece0"/><circle cx="279.2" cy="470.5" r="1.3" fill="#c8c2b0"/><circle cx="291.3" cy="451.7" r="1.1" fill="#e8e4d6"/><circle cx="267.3" cy="441.7" r="1.4" fill="#f4f0e6"/><circle cx="300.0" cy="464.7" r="1.2" fill="#f4f0e6"/><circle cx="283.0" cy="433.1" r="1.4" fill="#faf8f0"/><circle cx="256.0" cy="458.0" r="1.7" fill="#faf8f0"/><circle cx="255.7" cy="443.9" r="1.2" fill="#e8e4d6"/><circle cx="309.6" cy="436.9" r="1.3" fill="#ffffff"/><circle cx="296.0" cy="429.5" r="1.4" fill="#faf8f0"/><circle cx="284.5" cy="431.1" r="1.2" fill="#f0ece0"/><circle cx="293.0" cy="437.0" r="1.6" fill="#e8e4d6"/><circle cx="259.0" cy="448.1" r="1.3" fill="#ffffff"/><circle cx="255.8" cy="460.6" r="1.4" fill="#d6d0c0"/><circle cx="289.9" cy="461.0" r="1.3" fill="#d6d0c0"/><circle cx="256.1" cy="438.4" r="1.2" fill="#f4f0e6"/><circle cx="255.3" cy="429.8" r="1.4" fill="#ffffff"/><circle cx="311.6" cy="451.2" r="1.6" fill="#d6d0c0"/><circle cx="308.5" cy="449.1" r="1.3" fill="#e8e4d6"/><circle cx="274.2" cy="441.2" r="1.2" fill="#faf8f0"/><circle cx="281.8" cy="440.4" r="1.2" fill="#ffffff"/><circle cx="288.3" cy="441.2" r="1.5" fill="#e8e4d6"/><circle cx="267.1" cy="450.8" r="1.6" fill="#ffffff"/><circle cx="262.9" cy="467.6" r="1.5" fill="#d6d0c0"/><circle cx="282.2" cy="429.5" r="1.7" fill="#d6d0c0"/><circle cx="305.7" cy="437.3" r="1.6" fill="#faf8f0"/><circle cx="261.5" cy="460.0" r="1.1" fill="#ffffff"/><circle cx="266.8" cy="434.7" r="1.6" fill="#d6d0c0"/><circle cx="273.4" cy="436.6" r="1.2" fill="#ffffff"/><circle cx="277.3" cy="434.0" r="1.7" fill="#f4f0e6"/><circle cx="312.9" cy="443.6" r="1.6" fill="#e8e4d6"/><circle cx="289.6" cy="457.1" r="1.4" fill="#faf8f0"/><circle cx="253.6" cy="458.7" r="1.6" fill="#e8e4d6"/><circle cx="294.9" cy="423.3" r="1.3" fill="#f0ece0"/><circle cx="294.7" cy="427.0" r="1.4" fill="#f4f0e6"/><circle cx="266.5" cy="431.6" r="1.6" fill="#faf8f0"/><circle cx="286.5" cy="428.9" r="1.5" fill="#f4f0e6"/><circle cx="265.2" cy="453.6" r="1.3" fill="#ffffff"/><circle cx="282.3" cy="447.0" r="1.4" fill="#faf8f0"/><circle cx="282.9" cy="440.6" r="1.2" fill="#f4f0e6"/><circle cx="297.8" cy="430.0" r="1.0" fill="#faf8f0"/><circle cx="300.1" cy="424.2" r="1.3" fill="#faf8f0"/><circle cx="297.4" cy="438.3" r="1.0" fill="#d6d0c0"/><circle cx="268.2" cy="444.2" r="1.4" fill="#e8e4d6"/><circle cx="303.9" cy="456.3" r="1.1" fill="#faf8f0"/><circle cx="299.4" cy="425.1" r="1.5" fill="#f4f0e6"/><circle cx="283.7" cy="430.6" r="1.2" fill="#c8c2b0"/><circle cx="279.7" cy="428.5" r="1.2" fill="#d6d0c0"/><circle cx="276.9" cy="468.0" r="1.0" fill="#faf8f0"/><circle cx="280.1" cy="441.3" r="1.6" fill="#e8e4d6"/><circle cx="289.9" cy="450.0" r="1.1" fill="#faf8f0"/><circle cx="288.6" cy="446.7" r="1.3" fill="#faf8f0"/><circle cx="290.6" cy="445.8" r="1.1" fill="#f4f0e6"/><circle cx="293.4" cy="465.1" r="1.2" fill="#ffffff"/><circle cx="278.1" cy="457.1" r="1.1" fill="#ffffff"/><circle cx="297.8" cy="451.2" r="1.3" fill="#c8c2b0"/><circle cx="266.7" cy="440.7" r="1.5" fill="#ffffff"/><circle cx="266.5" cy="422.3" r="1.3" fill="#d6d0c0"/><circle cx="309.8" cy="437.0" r="1.2" fill="#faf8f0"/><circle cx="257.3" cy="450.3" r="1.2" fill="#c8c2b0"/><circle cx="293.6" cy="467.1" r="1.3" fill="#f4f0e6"/><circle cx="273.1" cy="465.8" r="1.0" fill="#f0ece0"/><circle cx="274.9" cy="430.0" r="1.1" fill="#f0ece0"/><circle cx="260.2" cy="428.1" r="1.3" fill="#e8e4d6"/><circle cx="279.7" cy="452.8" r="1.1" fill="#d6d0c0"/><circle cx="272.4" cy="419.6" r="1.7" fill="#e8e4d6"/><circle cx="288.6" cy="446.3" r="1.3" fill="#faf8f0"/><circle cx="271.0" cy="424.4" r="1.1" fill="#e8e4d6"/><circle cx="262.8" cy="465.6" r="1.6" fill="#e8e4d6"/><circle cx="277.0" cy="466.5" r="1.5" fill="#e8e4d6"/><circle cx="281.7" cy="418.5" r="1.3" fill="#f4f0e6"/><circle cx="259.2" cy="446.0" r="1.2" fill="#f4f0e6"/><circle cx="275.2" cy="447.8" r="1.4" fill="#c8c2b0"/><circle cx="267.7" cy="442.3" r="1.6" fill="#f4f0e6"/><circle cx="282.8" cy="442.2" r="1.6" fill="#faf8f0"/><circle cx="261.8" cy="432.7" r="1.1" fill="#f4f0e6"/><circle cx="304.1" cy="460.0" r="1.6" fill="#ffffff"/><circle cx="291.7" cy="472.5" r="1.5" fill="#f4f0e6"/><circle cx="264.1" cy="463.2" r="1.0" fill="#d6d0c0"/><circle cx="272.5" cy="434.9" r="1.2" fill="#e8e4d6"/><circle cx="270.2" cy="457.9" r="1.2" fill="#c8c2b0"/><circle cx="275.1" cy="424.2" r="1.6" fill="#c8c2b0"/><circle cx="267.4" cy="470.1" r="1.3" fill="#ffffff"/><circle cx="250.7" cy="439.5" r="1.6" fill="#d6d0c0"/><circle cx="266.8" cy="458.4" r="1.0" fill="#ffffff"/><circle cx="270.0" cy="468.7" r="1.6" fill="#e8e4d6"/><circle cx="306.7" cy="453.7" r="1.7" fill="#e8e4d6"/><circle cx="271.1" cy="449.8" r="1.1" fill="#f0ece0"/><circle cx="249.6" cy="447.8" r="1.2" fill="#ffffff"/><circle cx="280.9" cy="433.7" r="1.1" fill="#ffffff"/><circle cx="259.5" cy="428.9" r="1.4" fill="#f4f0e6"/><circle cx="283.6" cy="466.1" r="1.4" fill="#ffffff"/><circle cx="284.5" cy="465.1" r="1.2" fill="#e8e4d6"/><circle cx="260.5" cy="439.0" r="1.6" fill="#f4f0e6"/><circle cx="257.2" cy="452.5" r="1.2" fill="#faf8f0"/><circle cx="274.6" cy="437.2" r="1.2" fill="#d6d0c0"/><circle cx="263.4" cy="434.7" r="1.5" fill="#faf8f0"/><circle cx="306.6" cy="433.8" r="1.5" fill="#faf8f0"/><circle cx="279.1" cy="425.0" r="1.3" fill="#f0ece0"/><circle cx="269.8" cy="439.0" r="1.3" fill="#c8c2b0"/><circle cx="295.1" cy="430.3" r="1.1" fill="#e8e4d6"/><circle cx="304.6" cy="427.5" r="1.4" fill="#f4f0e6"/><circle cx="275.0" cy="457.6" r="1.2" fill="#f0ece0"/><circle cx="257.3" cy="427.3" r="1.2" fill="#e8e4d6"/><circle cx="293.2" cy="440.4" r="1.3" fill="#d6d0c0"/><circle cx="292.6" cy="423.5" r="1.6" fill="#ffffff"/><circle cx="259.6" cy="436.6" r="1.1" fill="#f0ece0"/><circle cx="279.2" cy="437.6" r="1.6" fill="#f0ece0"/><circle cx="290.6" cy="428.6" r="1.5" fill="#d6d0c0"/><circle cx="283.5" cy="463.2" r="1.6" fill="#f4f0e6"/><circle cx="284.2" cy="469.0" r="1.1" fill="#d6d0c0"/><circle cx="256.2" cy="452.7" r="1.1" fill="#f4f0e6"/><circle cx="260.1" cy="448.3" r="1.0" fill="#f4f0e6"/><circle cx="307.1" cy="433.8" r="1.2" fill="#f4f0e6"/><circle cx="255.9" cy="462.5" r="1.3" fill="#d6d0c0"/><circle cx="274.6" cy="463.6" r="1.2" fill="#ffffff"/><circle cx="288.3" cy="464.8" r="1.7" fill="#f4f0e6"/><circle cx="303.1" cy="458.7" r="1.7" fill="#ffffff"/><circle cx="283.1" cy="455.7" r="1.5" fill="#ffffff"/><circle cx="267.5" cy="446.1" r="1.0" fill="#f4f0e6"/><circle cx="271.2" cy="461.2" r="1.6" fill="#f4f0e6"/><circle cx="296.4" cy="439.2" r="1.5" fill="#f0ece0"/><circle cx="301.0" cy="461.3" r="1.3" fill="#d6d0c0"/><circle cx="294.4" cy="430.2" r="1.0" fill="#ffffff"/><circle cx="256.0" cy="434.6" r="1.5" fill="#faf8f0"/><circle cx="301.5" cy="437.1" r="1.2" fill="#e8e4d6"/><circle cx="250.9" cy="454.4" r="1.2" fill="#e8e4d6"/><circle cx="296.8" cy="427.9" r="1.2" fill="#faf8f0"/><circle cx="260.4" cy="436.0" r="1.2" fill="#e8e4d6"/><circle cx="273.8" cy="434.5" r="1.1" fill="#f0ece0"/><circle cx="306.3" cy="434.5" r="1.4" fill="#ffffff"/><circle cx="268.3" cy="443.6" r="1.3" fill="#d6d0c0"/><circle cx="294.4" cy="425.9" r="1.3" fill="#c8c2b0"/><circle cx="282.1" cy="415.8" r="1.3" fill="#c8c2b0"/><circle cx="290.2" cy="427.9" r="1.6" fill="#d6d0c0"/><circle cx="289.1" cy="445.5" r="1.1" fill="#ffffff"/><circle cx="296.6" cy="459.8" r="1.3" fill="#d6d0c0"/><circle cx="272.6" cy="429.0" r="1.0" fill="#faf8f0"/><circle cx="309.0" cy="446.9" r="1.4" fill="#e8e4d6"/><circle cx="286.8" cy="471.1" r="1.2" fill="#d6d0c0"/><circle cx="263.8" cy="452.6" r="1.7" fill="#d6d0c0"/><circle cx="273.7" cy="467.2" r="1.1" fill="#d6d0c0"/><circle cx="263.5" cy="430.9" r="1.5" fill="#ffffff"/><circle cx="263.4" cy="463.6" r="1.0" fill="#faf8f0"/><circle cx="275.4" cy="444.5" r="1.1" fill="#f4f0e6"/><circle cx="284.1" cy="462.4" r="1.1" fill="#f4f0e6"/><circle cx="280.2" cy="418.6" r="1.6" fill="#ffffff"/><circle cx="256.7" cy="437.2" r="1.7" fill="#ffffff"/><circle cx="274.7" cy="452.1" r="1.4" fill="#c8c2b0"/><circle cx="260.5" cy="453.0" r="1.7" fill="#c8c2b0"/><circle cx="301.9" cy="457.2" r="1.5" fill="#e8e4d6"/><circle cx="260.6" cy="427.8" r="1.5" fill="#f4f0e6"/><circle cx="278.1" cy="422.9" r="1.4" fill="#e8e4d6"/><circle cx="270.7" cy="427.0" r="1.1" fill="#c8c2b0"/><circle cx="295.2" cy="467.4" r="1.1" fill="#f4f0e6"/><circle cx="289.3" cy="440.7" r="1.2" fill="#d6d0c0"/><circle cx="281.3" cy="440.3" r="1.2" fill="#ffffff"/><circle cx="305.7" cy="432.4" r="1.5" fill="#c8c2b0"/><circle cx="261.7" cy="443.8" r="1.4" fill="#d6d0c0"/><circle cx="276.9" cy="419.1" r="1.4" fill="#e8e4d6"/><circle cx="291.2" cy="431.3" r="1.5" fill="#ffffff"/><circle cx="263.0" cy="439.9" r="1.2" fill="#f0ece0"/><circle cx="275.0" cy="435.7" r="1.5" fill="#f0ece0"/><circle cx="253.5" cy="454.6" r="1.1" fill="#f4f0e6"/><circle cx="271.1" cy="437.7" r="1.5" fill="#c8c2b0"/><circle cx="291.8" cy="424.5" r="1.3" fill="#f4f0e6"/><circle cx="267.9" cy="455.5" r="1.7" fill="#f4f0e6"/><circle cx="290.6" cy="457.3" r="1.7" fill="#ffffff"/><circle cx="291.0" cy="462.6" r="1.7" fill="#faf8f0"/><circle cx="260.6" cy="437.4" r="1.1" fill="#d6d0c0"/><circle cx="293.7" cy="462.4" r="1.6" fill="#c8c2b0"/><circle cx="296.1" cy="461.8" r="1.1" fill="#d6d0c0"/><circle cx="271.6" cy="437.2" r="1.1" fill="#ffffff"/><circle cx="274.5" cy="448.9" r="1.6" fill="#f0ece0"/><circle cx="266.9" cy="445.6" r="1.2" fill="#faf8f0"/><ellipse cx="285.8" cy="442.6" rx="3" ry="1.5" fill="#9a927a" opacity="0.6"/></g></g>
<circle cx="279.80" cy="448.60" r="35.9" fill="none" stroke="#70005f" stroke-width="6.8"/>

<path d="M224.00,318.80 L281.00,318.80 L281.00,336.80 L224.00,336.80 A4.6,4.6 0 0 1 219.40,332.20 L219.40,323.40 A4.6,4.6 0 0 1 224.00,318.80 Z" fill="#70005f"/>
<text transform="translate(232.21,333.50) scale(0.3886,0.4179)" font-size="40" font-weight="bold" fill="#fff">2019</text>
<path d="M279.00,379.80 L336.80,379.80 A4.6,4.6 0 0 1 341.40,384.40 L341.40,393.00 A4.6,4.6 0 0 1 336.80,397.60 L279.00,397.60 L279.00,379.80 Z" fill="#70005f"/>
<text transform="translate(293.21,394.40) scale(0.3877,0.4179)" font-size="40" font-weight="bold" fill="#fff">2018</text>
<text transform="translate(229.09,361.00) scale(0.5598,0.5929)" font-size="40" font-weight="bold" fill="#70005f" stroke="#70005f" stroke-width="0.87">36,2</text>
<text transform="translate(293.80,375.00) scale(0.5302,0.5929)" font-size="40" font-weight="bold" fill="#70005f" stroke="#70005f" stroke-width="0.89">0,5</text>
<path d="M350.70,448.70 L366.50,448.70 A49.3,49.3 0 0 1 465.10,448.70 L481.10,448.70" fill="none" stroke="#f4a125" stroke-width="3" stroke-linejoin="miter"/>
<circle cx="350.70" cy="448.70" r="4" fill="#f4a125"/>
<circle cx="481.10" cy="448.70" r="4" fill="#f4a125"/>
<rect x="415.40" y="312.40" width="2.4" height="87.50" fill="#f4a125"/>
<circle cx="416.60" cy="312.40" r="4" fill="#f4a125"/>
<g transform="translate(0.00,-0.20)" filter="url(#bl05)"><path d="M407.8,449.3 L402.5,444.4" stroke="#3a3a3a" stroke-width="3.4"/><path d="M402.5,444.4 L397.2,439.4" stroke="#d8d8d8" stroke-width="3.4"/><path d="M407.8,449.3 L415.9,444.7" stroke="#2e2e2e" stroke-width="3.4"/><path d="M415.9,444.7 L424.0,440.1" stroke="#c81010" stroke-width="3.4"/><path d="M424.0,440.1 L429.4,445.1" stroke="#b01010" stroke-width="3.4"/><path d="M429.4,445.1 L434.7,450.0" stroke="#d0d0d0" stroke-width="3.4"/><path d="M407.8,449.3 L404.2,453.9" stroke="#3a3a3a" stroke-width="3.4"/><path d="M404.2,453.9 L400.7,458.5" stroke="#d0d0d0" stroke-width="3.4"/><circle cx="397.2" cy="439.4" r="5.6" fill="url(#gH)"/><circle cx="407.8" cy="449.3" r="6.2" fill="url(#gC)"/><circle cx="424.0" cy="440.1" r="6" fill="url(#gO)"/><circle cx="434.7" cy="450.0" r="5.6" fill="url(#gH)"/><circle cx="400.7" cy="458.5" r="5.6" fill="url(#gH)"/><circle cx="411.3" cy="458.5" r="5.9" fill="url(#gH)"/></g>
<circle cx="416.30" cy="448.90" r="35.9" fill="none" stroke="#f4a125" stroke-width="6.8"/>

<path d="M360.60,318.80 L417.60,318.80 L417.60,336.80 L360.60,336.80 A4.6,4.6 0 0 1 356.00,332.20 L356.00,323.40 A4.6,4.6 0 0 1 360.60,318.80 Z" fill="#f4a125"/>
<text transform="translate(368.81,333.50) scale(0.3886,0.4179)" font-size="40" font-weight="bold" fill="#fff">2019</text>
<path d="M415.60,377.80 L474.00,377.80 A4.6,4.6 0 0 1 478.60,382.40 L478.60,391.20 A4.6,4.6 0 0 1 474.00,395.80 L415.60,395.80 L415.60,377.80 Z" fill="#f4a125"/>
<text transform="translate(430.11,392.50) scale(0.3877,0.4179)" font-size="40" font-weight="bold" fill="#fff">2018</text>
<text transform="translate(364.09,360.60) scale(0.5584,0.5929)" font-size="40" font-weight="bold" fill="#f4a125" stroke="#f4a125" stroke-width="0.87">31,3</text>
<text transform="translate(433.10,374.40) scale(0.5357,0.5929)" font-size="40" font-weight="bold" fill="#f4a125" stroke="#f4a125" stroke-width="0.89">6,5</text>
<path d="M506.50,448.80 L506.50,448.20 A49.3,49.3 0 0 1 605.10,448.20 L620.75,448.20" fill="none" stroke="#33b3ea" stroke-width="3" stroke-linejoin="miter"/>
<circle cx="620.75" cy="448.20" r="4" fill="#33b3ea"/>
<rect x="554.80" y="312.40" width="2.4" height="87.00" fill="#33b3ea"/>
<circle cx="556.00" cy="312.40" r="4" fill="#33b3ea"/>

<circle cx="556.00" cy="447.70" r="35.9" fill="none" stroke="#33b3ea" stroke-width="6.8"/>
<g transform="translate(0.20,-0.50)" filter="url(#bl05)"><circle cx="535.5" cy="414.5" r="3.2" fill="#fff"/><path d="M549.5,417.5 C556,415 563,418.5 567,424 C569.5,427.5 571,431 571.2,433.8 C565,433.8 558.5,431 554.5,426 C552,423 550.5,420 549.5,417.5 Z" fill="#5f8f34"/><path d="M550,418 Q560,424 570.5,433.2" stroke="#3f6f22" stroke-width="0.7" fill="none"/><path d="M539.3,428 C541,432 540,437.5 537,441.5 C534.5,444.5 531,446 528,446.4 C527.5,441 529.5,435.5 533,431.5 C535,429.5 537,428.5 539.3,428 Z" fill="#5a8a32"/><path d="M534.4,413.7 C540,415.5 544.5,419 545,428 C545.5,438 543.5,449 541.4,458.5" stroke="#b4c070" stroke-width="1.4" fill="none"/><path d="M536,414.5 C545,416.5 551,421.5 554.5,430 C558,439 560,449 561.2,458" stroke="#a8b864" stroke-width="1.4" fill="none"/><path d="M533.5,412.5 L538,415.5" stroke="#8a6a3a" stroke-width="2.2" stroke-linecap="round"/><circle cx="583.6" cy="457.8" r="10.0" fill="url(#gCh)"/><ellipse cx="582.1" cy="458.8" rx="3.2" ry="2.0" fill="url(#gHi)" transform="rotate(-15 582.1 458.8)" opacity="0.9"/><ellipse cx="588.4" cy="460.0" rx="1.5" ry="1.8" fill="url(#gHi)" opacity="0.8"/><ellipse cx="578.1" cy="455.8" rx="1.2" ry="1.6" fill="url(#gHi)" opacity="0.7"/><ellipse cx="583.6" cy="450.3" rx="3.5" ry="1.3" fill="#4a0508" opacity="0.5"/><circle cx="538.4" cy="468.0" r="9.9" fill="url(#gCh)"/><ellipse cx="536.9" cy="469.0" rx="3.2" ry="2.0" fill="url(#gHi)" transform="rotate(-15 536.9 469.0)" opacity="0.9"/><ellipse cx="543.2" cy="470.2" rx="1.5" ry="1.8" fill="url(#gHi)" opacity="0.8"/><ellipse cx="532.9" cy="466.0" rx="1.2" ry="1.6" fill="url(#gHi)" opacity="0.7"/><ellipse cx="538.4" cy="460.5" rx="3.5" ry="1.3" fill="#4a0508" opacity="0.5"/><circle cx="562.4" cy="466.8" r="9.9" fill="url(#gCh)"/><ellipse cx="560.9" cy="467.8" rx="3.2" ry="2.0" fill="url(#gHi)" transform="rotate(-15 560.9 467.8)" opacity="0.9"/><ellipse cx="567.2" cy="469.0" rx="1.5" ry="1.8" fill="url(#gHi)" opacity="0.8"/><ellipse cx="556.9" cy="464.8" rx="1.2" ry="1.6" fill="url(#gHi)" opacity="0.7"/><ellipse cx="562.4" cy="459.3" rx="3.5" ry="1.3" fill="#4a0508" opacity="0.5"/></g>
<path d="M499.60,318.80 L557.00,318.80 L557.00,336.80 L499.60,336.80 A4.6,4.6 0 0 1 495.00,332.20 L495.00,323.40 A4.6,4.6 0 0 1 499.60,318.80 Z" fill="#33b3ea"/>
<text transform="translate(508.01,333.50) scale(0.3886,0.4179)" font-size="40" font-weight="bold" fill="#fff">2019</text>
<path d="M555.00,323.20 L613.40,323.20 A4.6,4.6 0 0 1 618.00,327.80 L618.00,337.20 A4.6,4.6 0 0 1 613.40,341.80 L555.00,341.80 L555.00,323.20 Z" fill="#33b3ea"/>
<text transform="translate(569.51,338.20) scale(0.3877,0.4179)" font-size="40" font-weight="bold" fill="#fff">2018</text>
<text transform="translate(505.46,360.60) scale(0.5628,0.5929)" font-size="40" font-weight="bold" fill="#33b3ea" stroke="#33b3ea" stroke-width="0.87">29,7</text>
<text transform="translate(564.47,365.60) scale(0.5598,0.5929)" font-size="40" font-weight="bold" fill="#33b3ea" stroke="#33b3ea" stroke-width="0.87">26,8</text>
<path d="M644.70,449.00 L644.70,448.40 A49.3,49.3 0 0 1 743.30,448.40 L759.00,448.40" fill="none" stroke="#0a7cab" stroke-width="3" stroke-linejoin="miter"/>
<circle cx="759.00" cy="448.40" r="4" fill="#0a7cab"/>
<rect x="691.80" y="312.40" width="2.4" height="87.20" fill="#0a7cab"/>
<circle cx="693.00" cy="312.40" r="4" fill="#0a7cab"/>
<clipPath id="clip_693_449"><circle cx="693.10" cy="448.70" r="34"/></clipPath><g clip-path="url(#clip_693_449)"><g transform="translate(0.00,-0.30)" filter="url(#bl05)"><rect x="658" y="414" width="71" height="71" fill="url(#gSky)"/><ellipse cx="676.0" cy="428.0" rx="14.0" ry="7.0" fill="#ffffff" opacity="0.9" filter="url(#bl2)"/><ellipse cx="716.0" cy="432.0" rx="9.0" ry="4.0" fill="#ffffff" opacity="0.8" filter="url(#bl2)"/><polygon points="660.0,453.0 669.0,451.0 669.0,470.0 660.0,468.0" fill="#e8b838"/><polygon points="660.0,459.0 669.0,458.0 669.0,470.0 661.0,468.0" fill="#d06a40"/><polygon points="710.0,436.5 723.5,438.5 726.0,477.0 710.0,477.0" fill="#f2ce58"/><polygon points="717.0,447.0 726.0,448.5 726.0,458.0 717.0,458.0" fill="#d67a5e"/><polygon points="711.0,457.5 718.0,457.5 718.0,467.0 711.0,467.0" fill="#2a8ab8"/><polygon points="718.0,458.0 726.0,458.0 726.0,467.0 718.0,467.0" fill="#6ab070"/><polygon points="710.0,467.0 720.0,467.0 718.0,477.0 710.0,477.0" fill="#e8be44"/><polygon points="668.5,439.5 676.5,436.5 676.5,432.0 694.0,421.5 694.0,477.0 668.5,473.0" fill="#e8be44"/><path d="M668.5,446.5 L694,444.0" stroke="#a87a14" stroke-width="0.8"/><path d="M668.5,457.5 L694,455.0" stroke="#a87a14" stroke-width="0.8"/><path d="M668.5,468.0 L694,465.5" stroke="#a87a14" stroke-width="0.8"/><path d="M676.5,433 L676.5,475" stroke="#c89a20" stroke-width="0.6"/><rect x="674.0" y="441.0" width="1.8" height="4.2" fill="#5a4a20"/><rect x="674.5" y="452.0" width="1.8" height="4.2" fill="#5a4a20"/><rect x="674.5" y="462.5" width="1.8" height="4.2" fill="#5a4a20"/><rect x="675.0" y="471.5" width="1.8" height="4.2" fill="#5a4a20"/><polygon points="694.0,421.5 702.5,423.0 702.5,477.0 694.0,477.0" fill="#f2ce58"/><polygon points="702.5,423.0 710.0,424.5 710.0,477.0 702.5,477.0" fill="#c4644e"/><rect x="694" y="443.5" width="8.5" height="10" fill="#d67a5e"/><rect x="694" y="465.5" width="8.5" height="11.5" fill="#c4644e"/><rect x="702.5" y="444" width="7.5" height="10" fill="#f2ce58"/><rect x="702.5" y="465.5" width="7.5" height="11.5" fill="#d8603c"/><path d="M694,432.5 L710,433.0" stroke="#8a5a20" stroke-width="0.7"/><path d="M694,443.5 L710,444.0" stroke="#8a5a20" stroke-width="0.7"/><path d="M694,454.5 L710,455.0" stroke="#8a5a20" stroke-width="0.7"/><path d="M694,465.5 L710,466.0" stroke="#8a5a20" stroke-width="0.7"/><rect x="658" y="477" width="71" height="10" fill="#f4f0ea"/></g></g>
<circle cx="693.10" cy="448.70" r="35.9" fill="none" stroke="#0a7cab" stroke-width="6.8"/>

<path d="M692.00,318.80 L749.00,318.80 A4.6,4.6 0 0 1 753.60,323.40 L753.60,332.20 A4.6,4.6 0 0 1 749.00,336.80 L692.00,336.80 L692.00,318.80 Z" fill="#0a7cab"/>
<text transform="translate(705.81,333.50) scale(0.3877,0.4179)" font-size="40" font-weight="bold" fill="#fff">2018</text>
<path d="M636.60,327.80 L694.00,327.80 L694.00,345.20 L636.60,345.20 A4.6,4.6 0 0 1 632.00,340.60 L632.00,332.40 A4.6,4.6 0 0 1 636.60,327.80 Z" fill="#0a7cab"/>
<text transform="translate(645.01,342.20) scale(0.3886,0.4179)" font-size="40" font-weight="bold" fill="#fff">2019</text>
<text transform="translate(697.51,359.60) scale(0.5675,0.5929)" font-size="40" font-weight="bold" fill="#0a7cab" stroke="#0a7cab" stroke-width="0.86">442,7</text>
<text transform="translate(632.50,367.60) scale(0.5835,0.5929)" font-size="40" font-weight="bold" fill="#0a7cab" stroke="#0a7cab" stroke-width="0.85">436,8</text>
<rect x="38" y="521" width="724" height="1" fill="#8c8c8c"/>
<text transform="translate(37.66,538.00) scale(0.1886,0.2717)" font-size="40" font-weight="bold" fill="#222" stroke="#222" stroke-width="1.30">İYUL/2019</text>
<text transform="translate(570.65,537.80) scale(0.1540,0.2029)" font-size="40" font-weight="bold" fill="#222" stroke="#222" stroke-width="1.12">AZƏRBAYCAN RESPUBLİKASI İQTİSADİ İSLAHATLARIN</text>
<text transform="translate(570.74,546.20) scale(0.1599,0.2029)" font-size="40" font-weight="bold" fill="#222" stroke="#222" stroke-width="1.10">TƏHLİLİ VƏ KOMMUNİKASİYA MƏRKƏZİ</text>
<rect x="0" y="565" width="800" height="1" fill="#f4f4f4"/><rect x="799" y="88" width="1" height="478" fill="#f7f7f7"/><rect x="0" y="88" width="1" height="478" fill="#f7f7f7"/>
<g filter="url(#bl05)"><path d="M543.4,540 C543.5,547 548,550.8 554.4,550.8 C561,550.8 565.4,547 565.5,540 C563,545 559,547 554.4,547 C550,547 546,545 543.4,540 Z" fill="#6f7a2e"/><path d="M545,543.5 C547.5,548 551,549.6 554.4,549.6 C558,549.6 561.5,548 564,543.5" stroke="#b8a040" stroke-width="1.1" fill="none"/><circle cx="554.4" cy="536.3" r="9.6" fill="#8fb4a8"/><circle cx="554.4" cy="536.3" r="8.7" fill="#2a4a8a"/><circle cx="554.4" cy="536.3" r="7.4" fill="#c02a22"/><circle cx="554.4" cy="536.3" r="5.2" fill="#3a8a4a"/><polygon points="554.4,528.0 555.9,532.6 560.3,530.4 558.1,534.8 562.7,536.3 558.1,537.8 560.3,542.2 555.9,540.0 554.4,544.6 552.9,540.0 548.5,542.2 550.7,537.8 546.1,536.3 550.7,534.8 548.5,530.4 552.9,532.6" fill="#fffdf2"/><path d="M554.4,532.7 C557.4,535.8 556.8,539.5 554.4,539.5 C552.0,539.5 551.4,535.8 554.4,532.7 Z" fill="#dc2a20"/></g>
<polygon points="710.0,90.0 701.0,115.0 714.5,108.5 720.5,122.0 729.5,98.0" fill="#0a7cb0"/><polygon points="710.8,93.0 703.3,114.0 714.6,108.5 719.6,119.9 727.2,99.7" fill="none" stroke="#7fd0f0" stroke-width="0.7"/><polygon points="749.0,90.0 758.0,114.8 744.5,108.5 738.5,122.0 729.5,98.0" fill="#0a7cb0"/><polygon points="748.2,93.0 755.7,113.8 744.4,108.5 739.4,119.8 731.8,99.7" fill="none" stroke="#7fd0f0" stroke-width="0.7"/><g transform="translate(728.30,67.60) scale(1.045,1.0) translate(-728.30,-67.60)"><g fill="#2a4a5a" opacity="0.45" transform="translate(0,1.4)" filter="url(#bl1)"><circle cx="728.30" cy="67.60" r="23.00"/><circle cx="728.30" cy="90.10" r="7.60"/><circle cx="717.05" cy="87.09" r="7.60"/><circle cx="708.81" cy="78.85" r="7.60"/><circle cx="705.80" cy="67.60" r="7.60"/><circle cx="708.81" cy="56.35" r="7.60"/><circle cx="717.05" cy="48.11" r="7.60"/><circle cx="728.30" cy="45.10" r="7.60"/><circle cx="739.55" cy="48.11" r="7.60"/><circle cx="747.79" cy="56.35" r="7.60"/><circle cx="750.80" cy="67.60" r="7.60"/><circle cx="747.79" cy="78.85" r="7.60"/><circle cx="739.55" cy="87.09" r="7.60"/></g><g fill="#fff"><circle cx="728.30" cy="67.60" r="23.00"/><circle cx="728.30" cy="90.10" r="7.60"/><circle cx="717.05" cy="87.09" r="7.60"/><circle cx="708.81" cy="78.85" r="7.60"/><circle cx="705.80" cy="67.60" r="7.60"/><circle cx="708.81" cy="56.35" r="7.60"/><circle cx="717.05" cy="48.11" r="7.60"/><circle cx="728.30" cy="45.10" r="7.60"/><circle cx="739.55" cy="48.11" r="7.60"/><circle cx="747.79" cy="56.35" r="7.60"/><circle cx="750.80" cy="67.60" r="7.60"/><circle cx="747.79" cy="78.85" r="7.60"/><circle cx="739.55" cy="87.09" r="7.60"/></g><g fill="#cfeaf6"><circle cx="728.30" cy="67.60" r="22.00"/><circle cx="728.30" cy="89.20" r="6.70"/><circle cx="717.50" cy="86.31" r="6.70"/><circle cx="709.59" cy="78.40" r="6.70"/><circle cx="706.70" cy="67.60" r="6.70"/><circle cx="709.59" cy="56.80" r="6.70"/><circle cx="717.50" cy="48.89" r="6.70"/><circle cx="728.30" cy="46.00" r="6.70"/><circle cx="739.10" cy="48.89" r="6.70"/><circle cx="747.01" cy="56.80" r="6.70"/><circle cx="749.90" cy="67.60" r="6.70"/><circle cx="747.01" cy="78.40" r="6.70"/><circle cx="739.10" cy="86.31" r="6.70"/></g><g fill="#fff"><circle cx="728.30" cy="67.60" r="22.00"/><circle cx="728.30" cy="89.00" r="6.20"/><circle cx="717.60" cy="86.13" r="6.20"/><circle cx="709.77" cy="78.30" r="6.20"/><circle cx="706.90" cy="67.60" r="6.20"/><circle cx="709.77" cy="56.90" r="6.20"/><circle cx="717.60" cy="49.07" r="6.20"/><circle cx="728.30" cy="46.20" r="6.20"/><circle cx="739.00" cy="49.07" r="6.20"/><circle cx="746.83" cy="56.90" r="6.20"/><circle cx="749.70" cy="67.60" r="6.20"/><circle cx="746.83" cy="78.30" r="6.20"/><circle cx="739.00" cy="86.13" r="6.20"/></g></g>
<text transform="translate(724.16,48.40) scale(0.1009,0.1071)" font-size="40" font-weight="bold" fill="#6a8a9a">2019</text>
<text transform="translate(710.14,66.80) scale(0.3129,0.4710)" font-size="40" font-weight="bold" fill="#0b6fa0" stroke="#0b6fa0" stroke-width="1.28">İXRAC</text>
<text transform="translate(710.21,85.70) scale(0.2855,0.4420)" font-size="40" font-weight="bold" fill="#0b6fa0" stroke="#0b6fa0" stroke-width="1.37">İCMALI</text>
<text transform="translate(725.74,92.20) scale(0.0596,0.0870)" font-size="40" font-weight="bold" fill="#6a8a9a">İYUL</text>
</svg></body></html>
